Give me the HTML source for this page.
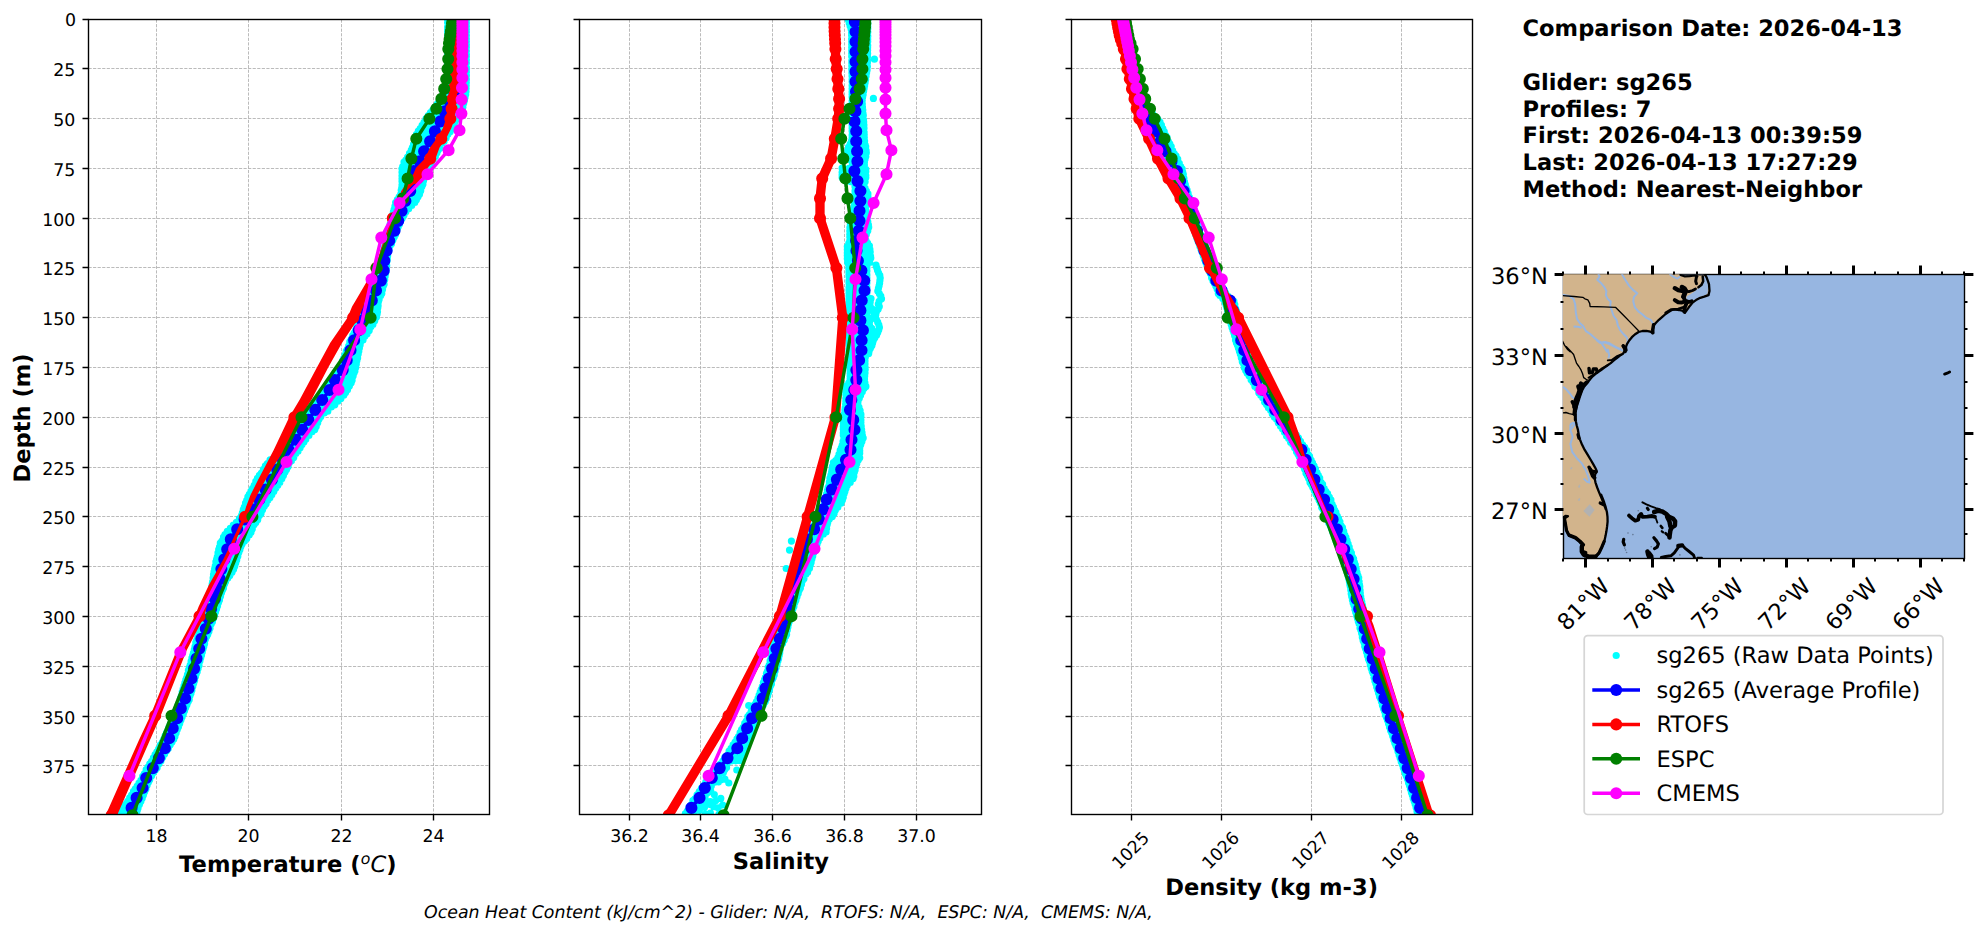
<!DOCTYPE html>
<html lang="en"><head><meta charset="utf-8"><title>Glider vs model profile comparison</title>
<style>html,body{margin:0;padding:0;background:#fff}svg{display:block}text{font-family:'DejaVu Sans','Liberation Sans',sans-serif;fill:#000;text-rendering:geometricPrecision}</style>
</head><body>
<svg width="1976" height="934" viewBox="0 0 1976 934">
<rect width="1976" height="934" fill="#fff"/>
<defs>
<clipPath id="c0"><rect x="88.5" y="19.5" width="401" height="795"/></clipPath>
<clipPath id="c1"><rect x="579.5" y="19.5" width="402" height="795"/></clipPath>
<clipPath id="c2"><rect x="1071.5" y="19.5" width="401" height="795"/></clipPath>
<clipPath id="cm"><rect x="1562.9" y="274.3" width="401.6" height="284.1"/></clipPath>
</defs>
<path d="M156.5 19.5V814.5M248.5 19.5V814.5M341.5 19.5V814.5M433.5 19.5V814.5M88.5 19.5H489.5M88.5 68.5H489.5M88.5 118.5H489.5M88.5 168.5H489.5M88.5 218.5H489.5M88.5 267.5H489.5M88.5 317.5H489.5M88.5 367.5H489.5M88.5 417.5H489.5M88.5 467.5H489.5M88.5 516.5H489.5M88.5 566.5H489.5M88.5 616.5H489.5M88.5 666.5H489.5M88.5 716.5H489.5M88.5 765.5H489.5" stroke="#b0b0b0" stroke-width="0.86" stroke-dasharray="3.18 1.38" fill="none"/>
<g clip-path="url(#c0)">
<path d="M447.6 19.7h.01M450.7 20.2h.01M454.3 20.1h.01M458.6 19.3h.01M462.7 19.3h.01M466.4 19.9h.01M447.6 22.4h.01M450.5 23h.01M455.8 22.5h.01M458.3 23.3h.01M463.5 23.2h.01M466.4 22.9h.01M447.6 27h.01M450.5 26.8h.01M454.7 25.6h.01M458.1 25.9h.01M463.3 25.7h.01M466.4 26.3h.01M447.6 29.5h.01M451.1 29.4h.01M454.2 28.6h.01M458.3 29.6h.01M462.5 29h.01M466.4 29.4h.01M447.6 32.3h.01M451 32.9h.01M455.5 32h.01M459 32.4h.01M463.4 32.8h.01M466.4 32.1h.01M447.6 36.3h.01M450.6 35.4h.01M455.6 34.9h.01M458.9 34.8h.01M463 35.9h.01M466.4 35.6h.01M447.6 39.2h.01M451 38.9h.01M455.3 38.7h.01M458.8 39.1h.01M463.5 38.6h.01M466.4 38.9h.01M447.6 41h.01M451.8 41.9h.01M456.1 42.2h.01M458.4 41.5h.01M463 40.9h.01M466.4 41.6h.01M447.6 44.3h.01M450.6 44.1h.01M455.7 44.2h.01M458.4 44.6h.01M463.4 44.1h.01M466.4 44.7h.01M447.6 48h.01M452.1 48.4h.01M455.8 47.5h.01M458.7 47.7h.01M463.4 48.6h.01M466.4 47.3h.01M447.6 50.5h.01M450.8 50.6h.01M455.1 51.1h.01M458.4 50.2h.01M462.5 50.8h.01M466.4 51.1h.01M447.6 54.8h.01M451.7 54.1h.01M455.4 54.4h.01M458 54.7h.01M463.2 54.7h.01M466.4 54.6h.01M447.6 57h.01M451.2 56.6h.01M455.4 56.5h.01M458 56.7h.01M462 56.9h.01M466.4 56.5h.01M447.6 59.5h.01M450.7 59.7h.01M454.8 59.5h.01M459.6 60.5h.01M461.9 59.9h.01M466.4 60.1h.01M447.6 63.2h.01M450.6 64h.01M456.1 63.3h.01M458.8 62.7h.01M461.8 63.1h.01M466.4 63h.01M447.6 67h.01M450.7 65.7h.01M456 66.5h.01M458.2 66.6h.01M461.7 66.5h.01M466.4 67.3h.01M447.6 70.2h.01M451.8 69.2h.01M454.9 69.1h.01M459.4 69.7h.01M463.2 69.3h.01M466.4 69.2h.01M447.6 73.2h.01M452.3 73.3h.01M455.7 73.2h.01M459.4 72.3h.01M462.7 72.5h.01M466.4 71.9h.01M447.6 75h.01M450.9 75.4h.01M455.5 76.5h.01M458.8 76.5h.01M463.6 76.5h.01M466.4 75.6h.01M447.6 78.5h.01M450.8 78.4h.01M454.5 79.1h.01M459.7 79.4h.01M462.6 79.1h.01M466.4 79.4h.01M447 81.3h.01M451.2 82.7h.01M455.3 82.4h.01M458.6 81.5h.01M463 81.7h.01M466.3 82.5h.01M446.1 85.9h.01M449.9 84.9h.01M455 85.5h.01M457.5 84.5h.01M461.5 85.7h.01M466.2 85.6h.01M445.2 87.6h.01M450 89h.01M453.9 88h.01M457.8 87.6h.01M460.9 89h.01M466.1 88.4h.01M444.3 91.3h.01M449.5 91.2h.01M453.7 91.8h.01M456.7 90.9h.01M461.2 90.9h.01M466 91.4h.01M443.1 94h.01M446.7 93.8h.01M451.4 94.2h.01M454.3 94.5h.01M459 94.3h.01M462.8 94.4h.01M465.7 94.5h.01M441.2 97.5h.01M444.2 97.4h.01M448.5 96.7h.01M453.7 97h.01M457 97.9h.01M461.2 97.2h.01M465 97.5h.01M439.3 100.7h.01M444 100h.01M447.8 100.2h.01M451.4 101h.01M456 100.7h.01M460.7 101.3h.01M464.4 100.5h.01M437.4 103.9h.01M441.8 103.7h.01M446.5 103.6h.01M450.6 103.7h.01M455.8 104h.01M460.1 104.4h.01M463.7 103.3h.01M435.2 106.9h.01M440.1 107.3h.01M442.4 106.2h.01M447 106.1h.01M450.5 106.1h.01M455.4 107.3h.01M459.8 106.2h.01M462.9 107.1h.01M432.8 110.2h.01M436.3 110.5h.01M442.1 109.5h.01M446.3 109.7h.01M449.6 110.7h.01M454.4 109.4h.01M457.8 109.9h.01M462.1 109.6h.01M430.5 112.5h.01M434.5 113.4h.01M438.3 113.1h.01M443.5 112.2h.01M447.7 113.2h.01M452.5 112.3h.01M457.8 113.5h.01M461.3 113.8h.01M428.3 115.5h.01M432.2 115.4h.01M437.7 115.7h.01M440.8 116h.01M446.7 116.6h.01M449.8 115.5h.01M455.5 116.2h.01M459.1 116.4h.01M426.1 118.5h.01M429.6 119.5h.01M434.8 118.5h.01M440.2 119.4h.01M444.3 118.5h.01M448.8 118.5h.01M453.3 119.1h.01M456.9 118.9h.01M424 122.4h.01M429.3 121.9h.01M432.1 122.3h.01M436.8 121.7h.01M441 121.6h.01M445.5 122h.01M450.1 122.7h.01M455 122h.01M422.1 125.4h.01M426 125.2h.01M430.1 125h.01M434.6 125.8h.01M440.1 124.9h.01M444.4 126.1h.01M448.2 125.9h.01M453.4 125.3h.01M420.2 128.5h.01M424.8 128.3h.01M428.1 128.8h.01M433.1 128.2h.01M436.7 128.8h.01M440.3 128.3h.01M443.7 127.8h.01M447.2 127.8h.01M451.9 128.9h.01M418.3 131.2h.01M421.6 130.9h.01M426.9 132.2h.01M430.6 131.3h.01M433.7 131.3h.01M438.1 131.1h.01M442 131.2h.01M447 132.4h.01M450.1 131.7h.01M416.5 134.3h.01M421.4 134.4h.01M424.1 133.9h.01M428.1 134.7h.01M432.3 134.2h.01M436.3 133.9h.01M439.8 134h.01M444 134h.01M448.1 133.9h.01M415.5 137.5h.01M419.3 137.9h.01M424.3 138.2h.01M428.9 138.1h.01M433.7 137.6h.01M437 138.6h.01M441 138.2h.01M446.1 138h.01M414.5 140.2h.01M419.4 141.5h.01M423.2 141.3h.01M427.8 140.3h.01M431.5 140.9h.01M436.3 141.4h.01M440.5 141h.01M444.1 141.5h.01M413.5 144.3h.01M417.9 143.6h.01M420.7 143.4h.01M425.5 143.4h.01M430.5 144.1h.01M434.2 144.2h.01M438.4 144h.01M442.1 143.2h.01M412.4 147.6h.01M416.9 147.1h.01M420.4 147.4h.01M423.4 147.5h.01M427.7 146.4h.01M431.7 147.5h.01M435.5 147.5h.01M440.1 147.9h.01M411.3 150.2h.01M415.6 150.2h.01M420.6 150.6h.01M425 150.4h.01M428.4 149.6h.01M433.2 150.6h.01M438.2 149.9h.01M409.5 153.4h.01M412.4 152.6h.01M416.9 153.6h.01M421.7 153.6h.01M424.8 153.3h.01M429.1 153.2h.01M432.3 153.9h.01M437 152.8h.01M407.6 157.2h.01M412.5 155.6h.01M415.5 156.9h.01M420.5 156.3h.01M423 155.9h.01M428.3 155.9h.01M431.6 155.8h.01M435.4 156.4h.01M405.8 160.2h.01M409 160h.01M413.7 160.1h.01M418 159.1h.01M422.4 159.5h.01M424.6 158.7h.01M429.4 159.4h.01M433.4 159.2h.01M404 162h.01M407.6 162.3h.01M412.5 161.8h.01M416.2 163.1h.01M418.9 163.3h.01M424 163.2h.01M427.1 162.4h.01M431.4 162.4h.01M402.7 166.5h.01M407.3 165.5h.01M411.5 165.3h.01M415.2 165.1h.01M421.2 165.4h.01M425.9 165.3h.01M429.5 165.3h.01M402 168.8h.01M405.7 168.6h.01M411.5 169.4h.01M415.5 169h.01M420 169.5h.01M423.6 169.2h.01M427.8 168.1h.01M402 172.3h.01M406 172.3h.01M410.5 171.6h.01M413.3 172.6h.01M417.6 171.9h.01M422.1 171.6h.01M426.5 172.3h.01M402 175.8h.01M405.4 175.2h.01M409.3 175.1h.01M413.4 174.5h.01M416.8 174.5h.01M422.2 175h.01M425.2 174.6h.01M402 178.8h.01M407.4 178h.01M410.1 177.6h.01M414.5 177.8h.01M418.9 177.7h.01M424.2 177.7h.01M402 181.3h.01M407.1 181.6h.01M410.4 181.1h.01M415 181h.01M418.9 180.5h.01M423.5 180.8h.01M402 185h.01M405.4 184.3h.01M410.6 184.9h.01M414 183.9h.01M418.2 184.1h.01M422.9 184.2h.01M401.7 188.1h.01M406.5 188h.01M408.8 186.7h.01M414.3 188h.01M417.8 187.5h.01M421.9 186.6h.01M401.2 190.3h.01M406 191h.01M409.7 191.3h.01M412.4 189.9h.01M416.1 190.5h.01M420.7 190.8h.01M400.7 194.3h.01M404.9 193.8h.01M408.7 193.5h.01M412.1 192.9h.01M416.3 193.2h.01M419.5 194.3h.01M399.2 196.9h.01M402.6 196.1h.01M406.2 196.9h.01M410.9 196.1h.01M413.4 196.7h.01M418 196.8h.01M397.4 199.6h.01M400.6 200h.01M404 199.5h.01M408.7 200.5h.01M412.9 200.4h.01M416.4 199.8h.01M395.6 202.5h.01M398.9 203.6h.01M403.7 202.6h.01M406.2 202.9h.01M411.3 202.8h.01M414.8 202.5h.01M394.9 206.3h.01M399.9 205.6h.01M402.4 205.7h.01M407.4 206.3h.01M411.7 205.5h.01M394.1 209.6h.01M398.2 209.1h.01M400.8 209.9h.01M404.7 209.6h.01M408.7 208.7h.01M393.4 211.8h.01M398.1 211.9h.01M402.7 212.2h.01M405.9 211.7h.01M392.7 214.9h.01M396.3 215.6h.01M401.2 214.7h.01M404 215.1h.01M392 217.9h.01M396.3 217.8h.01M397.9 217.7h.01M402.2 218.2h.01M391.1 222.1h.01M395.1 221.9h.01M398.4 222.2h.01M400.6 221.2h.01M390.2 224.1h.01M394.1 225h.01M395.3 224.9h.01M399.3 224.4h.01M389.2 227.5h.01M393.3 227.2h.01M398.1 226.9h.01M388.2 230.4h.01M392.2 231.5h.01M396.8 230.2h.01M387.4 234.6h.01M390.9 233.7h.01M395.5 234.4h.01M386.7 237.5h.01M390.3 236.3h.01M394.2 237h.01M386 239.9h.01M390.3 239.6h.01M392.9 239.9h.01M385.4 243.8h.01M387.5 243.1h.01M391.5 243.7h.01M384.7 246.7h.01M386.5 245.6h.01M390.2 245.6h.01M384 250.1h.01M386 249.8h.01M388.9 250h.01M383.4 252.2h.01M387.9 252.1h.01M383 256.3h.01M385.5 255.2h.01M387.6 255.9h.01M382.5 258.4h.01M384.5 257.9h.01M387.3 259.1h.01M382.1 262.5h.01M384.8 262.5h.01M387 261h.01M381.6 264.5h.01M384.1 265.6h.01M386.7 265.6h.01M381.2 267.8h.01M383.3 267.9h.01M386.3 268h.01M380.4 271.8h.01M382.5 271.6h.01M386 271.5h.01M379.6 274.7h.01M383.1 274.4h.01M385.5 273.9h.01M378.7 277h.01M381.7 277.8h.01M385.1 276.6h.01M377.9 279.9h.01M381.8 280h.01M384.7 279.7h.01M376.6 282.8h.01M380.5 283.2h.01M384.1 284.3h.01M375.2 287.2h.01M380.2 286.2h.01M383.3 285.9h.01M373.7 289.1h.01M378.1 290h.01M382.5 289.6h.01M372.3 292.4h.01M375.3 293h.01M378.9 293.2h.01M381.8 293.4h.01M370.7 296.2h.01M373.2 296.4h.01M376.9 296h.01M380.6 295.7h.01M369.1 299.4h.01M371.8 298.6h.01M375.3 298.4h.01M379.1 299.6h.01M367.6 302.2h.01M370.9 301.9h.01M375.8 302.1h.01M378.4 301.7h.01M366.2 305.7h.01M370.4 306h.01M373.3 305.2h.01M378.1 305.7h.01M364.7 308.8h.01M369.9 307.6h.01M373 307.7h.01M377.8 307.8h.01M363.2 312.2h.01M367 312.1h.01M370.1 312h.01M373.8 311h.01M377.5 311.8h.01M361.8 315.2h.01M364.8 314.7h.01M369.7 314h.01M373 313.9h.01M377.1 314h.01M360.4 317.2h.01M364.6 317.8h.01M367.9 316.8h.01M372.2 317.9h.01M376.5 317.1h.01M359.2 320.4h.01M362.5 321.2h.01M367 320h.01M370 320.5h.01M374.7 320.8h.01M358 324h.01M360.9 323.3h.01M365.8 323.7h.01M368.7 323.5h.01M372.9 324.5h.01M356.8 326.6h.01M360.5 326.7h.01M363.7 327.5h.01M368.5 326.7h.01M371 326.4h.01M355.6 330.4h.01M358.4 329.2h.01M363.2 329.9h.01M366.4 329.8h.01M369.2 330.6h.01M354.1 333h.01M357.8 332.3h.01M362.9 333.3h.01M367.1 333.8h.01M352.7 335.5h.01M357.1 336h.01M360.9 335.6h.01M365 335.9h.01M351.2 339.3h.01M356 338.7h.01M359 339.8h.01M363 340h.01M349.8 341.9h.01M352.7 343.1h.01M358.1 342.4h.01M360.9 341.7h.01M348.6 346.2h.01M352.2 346.1h.01M356.5 346h.01M360.1 345h.01M347.4 349.1h.01M350.8 348.4h.01M356.1 349.1h.01M359.4 348.1h.01M346.2 351.2h.01M350.2 351.7h.01M354.4 351.1h.01M358.8 351.3h.01M344.9 355.2h.01M350.2 354.1h.01M353.9 355.2h.01M358.2 354.1h.01M343.7 358.4h.01M346.4 358.1h.01M350.7 358.1h.01M353.7 357.8h.01M357.6 358h.01M342.5 360.9h.01M346.4 360.9h.01M349.6 360.2h.01M353.6 361h.01M356.9 360.6h.01M341.3 364.5h.01M345.6 364h.01M348.2 364.1h.01M351.8 363.5h.01M356.3 364h.01M340.1 366.5h.01M343.9 367.2h.01M347 367.4h.01M350.9 367.6h.01M355.7 367.6h.01M338.3 370.3h.01M341.6 370.3h.01M346.4 371h.01M350 370.9h.01M354.9 371.1h.01M336.2 373.8h.01M341.3 372.9h.01M346 373.4h.01M350.4 374.1h.01M354 372.9h.01M334 377h.01M338.7 375.8h.01M341.3 376.9h.01M344.7 377.1h.01M348.8 377h.01M353.1 375.9h.01M331.8 379.6h.01M336.7 379.1h.01M339.5 379.6h.01M343.7 378.9h.01M347.4 379.1h.01M352.1 380.3h.01M329.7 383h.01M334.8 382.2h.01M338.9 382.1h.01M342.7 382.9h.01M346.6 383.3h.01M351.2 382.8h.01M327.7 385.9h.01M332.8 385.2h.01M337.4 386h.01M340.5 386.3h.01M344.6 386.6h.01M349.4 385.9h.01M325.8 388.7h.01M330.7 388.8h.01M333.8 389.3h.01M337.9 389.4h.01M342.7 389.1h.01M347.5 389.7h.01M323.9 392.1h.01M328.6 391.7h.01M331.6 391.3h.01M336.2 392.2h.01M341.2 392h.01M345.6 392.6h.01M322 394.5h.01M325.8 395.3h.01M329.7 394.3h.01M334.8 394.5h.01M339.1 394.7h.01M343.8 395.2h.01M319.6 398.3h.01M323.2 398.4h.01M328.1 397.6h.01M333.3 397.8h.01M336 397.6h.01M340.9 398.4h.01M317 401.9h.01M321.8 401.1h.01M324.9 400.5h.01M329.8 401.4h.01M333.4 401.5h.01M337.9 401.2h.01M314.5 405.1h.01M319 404h.01M323.4 403.7h.01M326.7 404.2h.01M330.2 403.7h.01M334.8 404.8h.01M312.3 406.7h.01M316.2 408.2h.01M319.2 407h.01M323.9 407.5h.01M327.8 408h.01M331.3 407h.01M310.2 410.3h.01M314.2 409.9h.01M319.7 411.1h.01M323.8 409.8h.01M327.8 411.2h.01M308 414.1h.01M312 414.1h.01M316 413.3h.01M319.4 413.3h.01M324.3 413h.01M305.8 416.5h.01M310 417.1h.01M314 417.1h.01M316.5 416.9h.01M320.7 416.7h.01M303.9 420.4h.01M307.7 419.5h.01M311.8 420.6h.01M314.7 420.5h.01M319.1 419.1h.01M301.9 422.6h.01M305.3 423.4h.01M310.7 423.4h.01M313.4 423.6h.01M317.7 422.7h.01M300 425.7h.01M304.9 426.3h.01M308.5 426.4h.01M313.1 426.1h.01M316.2 426.6h.01M298.1 429.5h.01M303 429.1h.01M306.9 429.3h.01M310.2 428.7h.01M314.8 429.4h.01M296 431.6h.01M300.8 431.7h.01M303.1 431.7h.01M308.9 432.1h.01M312.1 431.7h.01M293.8 434.6h.01M296.7 435.7h.01M301.6 435.7h.01M305.6 434.7h.01M308.9 435.5h.01M291.6 438.3h.01M295.8 439h.01M299.5 437.8h.01M303 439.2h.01M305.8 439.2h.01M289.4 441h.01M292.4 441h.01M295.7 442.2h.01M300.9 441.8h.01M303.9 442.1h.01M287.2 444.9h.01M290.4 444.1h.01M293.8 445.1h.01M297.7 444.4h.01M302 444.6h.01M285 447h.01M288.2 447.5h.01M292.9 447.6h.01M295.9 448.5h.01M300.1 447.8h.01M282.1 451.5h.01M286.3 450.1h.01M289.9 450.8h.01M294.6 450.7h.01M298 451.2h.01M278.1 454.1h.01M282 454.6h.01M286.2 454.5h.01M290.7 453.2h.01M295.8 453.5h.01M274.1 457.5h.01M279 456.3h.01M281.9 457.1h.01M286.4 456.6h.01M289.7 456.9h.01M293.7 457.6h.01M270.1 459.8h.01M275.3 459.9h.01M278.1 460.5h.01M282.9 459.6h.01M287.5 459.5h.01M291.5 460.7h.01M267.4 463.6h.01M272.4 463.5h.01M276 463.1h.01M280.5 463.9h.01M284.4 463.9h.01M289.6 462.5h.01M265.4 465.9h.01M268.7 467h.01M273 466.2h.01M277.5 466h.01M280.4 466.5h.01M284.8 466.8h.01M288.1 466.6h.01M263.4 469.3h.01M266.9 468.9h.01M271.8 469.8h.01M275.4 469h.01M278.7 469.9h.01M282.8 468.9h.01M286.5 469.4h.01M261.4 473.2h.01M264.8 472.1h.01M268.9 472.9h.01M273.9 472h.01M276.4 472.2h.01M280.7 472.6h.01M285 472.1h.01M259.4 475.4h.01M262.8 476.5h.01M267.9 475.1h.01M272.3 475.1h.01M275.2 476.5h.01M280 476.1h.01M283.4 475.6h.01M257.4 478.3h.01M261.8 478.2h.01M265 478.6h.01M268.7 478.6h.01M274.3 479.1h.01M277.7 479h.01M281.8 478.7h.01M255.8 481.3h.01M260 481.7h.01M264.3 482.6h.01M267.7 482h.01M272.3 481.8h.01M275.3 482.3h.01M279.8 482.5h.01M254.2 485.4h.01M258.5 485.6h.01M262.4 485.2h.01M265.9 484.7h.01M270.2 484.4h.01M273.7 485.5h.01M277.8 485.3h.01M252.6 488.3h.01M255.9 488h.01M260.2 488.3h.01M264 488.4h.01M268.9 487.6h.01M272.2 488.5h.01M275.8 487.9h.01M251 491.2h.01M255.7 490.5h.01M258.7 490.7h.01M262.9 491.9h.01M266.2 490.6h.01M270.1 491.3h.01M273.8 491.5h.01M249.3 494.3h.01M254.1 494.8h.01M258.4 494.2h.01M263.7 493.8h.01M267.7 494.1h.01M271.8 494.7h.01M247.9 496.8h.01M253.3 497.2h.01M255.8 497h.01M260.9 496.6h.01M265.3 497.3h.01M269.9 497.7h.01M246.7 500.3h.01M250.5 500.1h.01M255.7 501.2h.01M259.6 500.1h.01M264.4 500.3h.01M268 500h.01M245.5 503h.01M250.2 504.1h.01M254 503.6h.01M258 503.2h.01M262.9 503.4h.01M266.1 503.8h.01M244.3 507.2h.01M248.9 506.6h.01M251.9 506.8h.01M255.5 507.2h.01M260 507.3h.01M264.3 506.3h.01M243.3 509.6h.01M246.6 509.7h.01M250.3 509h.01M255.3 509.4h.01M258.2 509.5h.01M262.5 509.8h.01M242.4 512.8h.01M246.4 513.2h.01M249.6 513.6h.01M254.3 512.2h.01M257.9 513.5h.01M261 513.4h.01M241.6 515.4h.01M246.7 516.2h.01M249.6 515.2h.01M255.9 516.2h.01M259.4 515.6h.01M239.4 518.5h.01M242.3 518.7h.01M247.2 518.9h.01M249.7 519.7h.01M254.6 518.6h.01M257.7 519.7h.01M236.4 522.4h.01M240.8 522.5h.01M244.9 522.7h.01M248.7 521.7h.01M252.3 522.2h.01M255.8 522.6h.01M233.3 525.2h.01M238.2 525.4h.01M241.1 524.9h.01M245 525.3h.01M249 525.2h.01M254 524.7h.01M230.3 528.4h.01M234.7 528.5h.01M239.9 527.6h.01M244.2 528.3h.01M248.1 528.7h.01M252.3 528.9h.01M227.3 531.3h.01M231.1 532.2h.01M234.4 531.7h.01M239.4 530.7h.01M243.3 531.8h.01M247.9 531.2h.01M251 532.3h.01M225 534.6h.01M229 535.2h.01M232.1 534.9h.01M237.3 534.3h.01M241.8 534.4h.01M245.1 534.6h.01M249.2 535h.01M223.5 537.2h.01M227.2 537.6h.01M231.4 538.2h.01M234.7 538.2h.01M238.8 537.7h.01M242.5 537.7h.01M246.8 538.5h.01M221.9 541h.01M226.2 540.5h.01M229 540.5h.01M233.3 541h.01M237.5 540.1h.01M241.1 541.4h.01M244.5 540.9h.01M220.3 543.2h.01M224.3 543.1h.01M228.4 544.6h.01M233.6 544.2h.01M238.3 544.6h.01M242.1 544.1h.01M219.5 547.2h.01M224 547.3h.01M228.2 547.3h.01M231.7 547.3h.01M236.5 547.4h.01M240.9 546.4h.01M218.7 549.6h.01M222 550.5h.01M228 550.3h.01M231.1 550.6h.01M236.2 550.2h.01M239.9 549.7h.01M218 552.9h.01M222 552.9h.01M226.2 553.4h.01M231.4 552.5h.01M234.8 552.5h.01M238.8 552.6h.01M217.3 556.8h.01M221.5 557h.01M225.4 555.5h.01M229.4 556.4h.01M234.5 557.1h.01M237.8 556.3h.01M216.6 559.3h.01M219.8 559.6h.01M224.1 558.8h.01M227.7 558.6h.01M233.1 558.8h.01M236.7 560.1h.01M215.9 561.8h.01M220.6 561.9h.01M222.9 562.9h.01M227.3 562.9h.01M231.1 561.8h.01M235.7 562.9h.01M215.3 565.9h.01M219.8 566h.01M222.2 565.8h.01M227.3 565.5h.01M231.6 565.2h.01M234.7 566.3h.01M214.6 569h.01M217.4 567.9h.01M222.5 569.2h.01M225.2 568.4h.01M230.3 568.2h.01M233.6 569.3h.01M214 571.8h.01M217.6 571.6h.01M223.1 571.7h.01M227.8 571.2h.01M232 572.3h.01M213.5 574.7h.01M217.9 575.1h.01M221.5 574.7h.01M226.3 575.6h.01M229.8 575.4h.01M213.1 578.1h.01M216.3 577.3h.01M221.3 578.3h.01M224.7 577.7h.01M227.7 578.2h.01M212.6 581.9h.01M217.6 581.3h.01M220.8 581h.01M225.5 581.7h.01M212.2 584h.01M216.7 584.4h.01M221.2 584.7h.01M224.5 583.9h.01M211.8 586.5h.01M215.2 587.2h.01M219.8 587.8h.01M223.5 587.9h.01M211.4 589.7h.01M215.7 590.9h.01M219.5 590.5h.01M222.5 590h.01M211 594.1h.01M215.1 593.8h.01M218.8 593.3h.01M221.5 592.8h.01M210.5 596.7h.01M214.5 596.1h.01M217.7 597.3h.01M220.5 596.2h.01M210.1 599.9h.01M213.6 599.6h.01M215.8 599.3h.01M219.5 600.1h.01M209.2 603.3h.01M212.2 602.1h.01M216 603.2h.01M218.5 602.4h.01M208.2 606h.01M212.1 606.5h.01M214.4 605.9h.01M217.5 606h.01M207.2 608.5h.01M209.7 608.5h.01M213.8 608.8h.01M216.5 609.1h.01M206.2 611.9h.01M209.3 611.5h.01M211.5 612.9h.01M215.5 611.9h.01M205.2 614.6h.01M208.5 615.7h.01M210.7 615.4h.01M214.5 615h.01M204.2 618.3h.01M206.3 617.6h.01M211.3 618.9h.01M213.5 618.3h.01M203.1 621.5h.01M205.7 621.8h.01M209.1 622.1h.01M212.4 621.8h.01M202 625h.01M206 624.1h.01M207.2 624h.01M211.2 624h.01M200.9 626.9h.01M203.1 627.7h.01M207.8 627.5h.01M210 628.3h.01M199.9 631.4h.01M202 630.9h.01M205.7 630.1h.01M208.9 631.4h.01M198.8 633.4h.01M203.4 634h.01M207.7 634.5h.01M197.7 637.2h.01M201.9 636.8h.01M206.6 636.4h.01M196.6 640.7h.01M202 639.6h.01M205.4 639.3h.01M195.8 642.7h.01M199.9 643.7h.01M204.6 643.7h.01M195 646.7h.01M198.5 646.7h.01M203.8 646.5h.01M194.3 649.5h.01M199.6 648.6h.01M203.1 648.7h.01M193.5 652.8h.01M198.8 652.7h.01M202.3 652.1h.01M192.7 655.6h.01M197.6 654.9h.01M201.5 655.2h.01M191.9 658.2h.01M195.6 658.6h.01M200.7 658.1h.01M191.1 661.3h.01M194.8 662h.01M199.9 660.9h.01M190.2 665.1h.01M194 664.1h.01M199 665.5h.01M189.3 667.5h.01M194.6 668.5h.01M198.1 668.5h.01M188.4 670.4h.01M192.7 670.4h.01M197.2 671.7h.01M187.5 674.6h.01M192.2 674h.01M196.3 673.8h.01M186.7 677.7h.01M191 677.4h.01M195.5 676.6h.01M185.8 679.9h.01M189.3 680.6h.01M194.6 680.4h.01M184.9 682.8h.01M190 683h.01M193.7 683.3h.01M184 685.9h.01M187.9 687h.01M192.8 686.2h.01M183.1 689.1h.01M187.5 689.3h.01M191.9 690.2h.01M182.2 692.1h.01M187.6 692h.01M191 693.3h.01M181.3 696.1h.01M185.1 695.8h.01M190.1 695.5h.01M180.4 698.5h.01M184.2 698.7h.01M189.2 699.7h.01M179.3 702.8h.01M184.6 701.4h.01M188.1 701.7h.01M178 705.7h.01M181.6 705.5h.01M186.9 704.8h.01M176.7 709h.01M178.8 708.7h.01M182.4 707.6h.01M185.7 707.4h.01M175.4 711.8h.01M178.5 710.8h.01M181.4 712h.01M184.5 710.8h.01M174.2 714.5h.01M176.5 713.9h.01M180.8 714.7h.01M183.3 713.9h.01M172.9 716.8h.01M175.1 717.7h.01M179 717.1h.01M182.1 717h.01M171.6 720.8h.01M175.1 721.1h.01M178 720.1h.01M180.9 719.9h.01M170.3 724.1h.01M173.3 724.1h.01M175.7 724.2h.01M179.7 723.4h.01M169 727.3h.01M172.9 726.8h.01M174.4 727.5h.01M178.5 726.8h.01M167.8 730.5h.01M170.5 729.4h.01M174.8 729.7h.01M177.3 729.4h.01M166.5 732.8h.01M169.9 732.2h.01M172.9 732.9h.01M176.1 733h.01M165.2 735.5h.01M168.9 736.6h.01M172.4 735.8h.01M174.9 736.4h.01M163.9 739h.01M167.7 738.5h.01M171.2 739.9h.01M173.7 739.2h.01M162.3 742.3h.01M165.6 742.4h.01M167.8 743h.01M172 741.9h.01M160.5 744.9h.01M162.9 745h.01M167.6 744.6h.01M170.2 744.8h.01M158.7 748.8h.01M161.3 747.7h.01M165.3 748.6h.01M168.3 748.5h.01M156.9 751.9h.01M159.3 752.2h.01M163.7 750.9h.01M166.4 751h.01M155.1 754.7h.01M158.3 754.3h.01M160.7 754.5h.01M164.6 754.1h.01M153.4 757.9h.01M157.2 757.2h.01M159.7 758.2h.01M162.7 757.3h.01M151.6 761.4h.01M155.6 760.7h.01M157.6 761.4h.01M160.9 760.9h.01M149.8 763.8h.01M153.7 764.4h.01M155.6 763.6h.01M159 763.7h.01M148 767h.01M152 767.6h.01M154.9 767.6h.01M157.1 767.7h.01M146.2 769.5h.01M149.3 770.9h.01M153.1 769.8h.01M155.3 770.1h.01M144.5 773.5h.01M148.7 773.3h.01M153.4 772.6h.01M142.7 776.3h.01M147.1 775.6h.01M151.6 775.8h.01M140.9 780.3h.01M145.8 780.2h.01M149.7 779.7h.01M139 783.1h.01M142.9 783.2h.01M144.3 782.8h.01M148.4 782.2h.01M137.2 786h.01M140 785.8h.01M144.7 785.9h.01M147.1 785.3h.01M135.3 788.8h.01M138.7 789.5h.01M141.9 788.5h.01M145.9 789h.01M133.5 791.3h.01M137.4 792.6h.01M140.9 791.5h.01M144.6 791.8h.01M131.6 795.1h.01M134.8 794.4h.01M138.7 794.7h.01M143.4 794.9h.01M129.7 797.8h.01M133.4 797.4h.01M138.1 798.6h.01M142.2 798.3h.01M127.7 801.3h.01M132.4 800.7h.01M136.9 801.1h.01M140.9 801.3h.01M125.2 804.5h.01M128.7 804h.01M131.8 803.9h.01M135.9 804.1h.01M139.4 804.4h.01M122.8 806.6h.01M126.3 808h.01M129.9 807.5h.01M134.2 807.1h.01M138 808.2h.01M121.4 810.2h.01M126 810h.01M128.5 811.1h.01M133.2 809.8h.01M137.3 810.3h.01M120.2 813.5h.01M124.8 813h.01M127.9 814.3h.01M133 813h.01M136.7 813.3h.01" stroke="#00ffff" stroke-width="7.2" stroke-linecap="round" fill="none"/>
<path d="M457 21.9L457 31.8L457 41.8L457 51.7L457 61.7L457 71.6L456.5 81.6L454 91.5L449.7 101.5L444.7 111.4L440.5 121.4L434.9 131.3L430.1 141.3L424.1 151.2L419.7 161.2L413.8 171.1L412 181.1L410.2 191L405.4 201L401.6 210.9L398.2 220.9L394.5 230.8L389.2 240.8L386.6 250.7L384.3 260.7L383.7 270.6L380.9 280.6L376 290.5L371.8 300.5L365.9 310.4L362.4 320.4L358.8 330.3L354.1 340.3L350.5 350.2L346.7 360.2L342.7 370.1L334.8 380.1L329.5 390L322.2 400L315.3 409.9L308.3 419.9L302.2 429.8L295.7 439.8L288.5 449.7L282.9 459.7L277.2 469.6L271.9 479.6L265.6 489.5L259.3 499.5L252 509.4L244.6 519.4L237.2 529.3L230.8 539.3L227.2 549.2L224.3 559.2L221.4 569.1L219.8 579.1L217.1 589L214.9 598.9L211.1 608.9L208.6 618.8L205.8 628.8L201.4 638.7L199.2 648.7L196.5 658.6L194.1 668.6L191.5 678.5L188.5 688.5L185.1 698.4L180.8 708.4L177.2 718.3L172.7 728.3L169.1 738.2L164.9 748.2L158.9 758.1L152.8 768.1L146.2 778L142.6 788L136.6 797.9L131.6 807.9" stroke="#0000ff" stroke-width="3.45" stroke-linejoin="round" stroke-linecap="butt" fill="none"/>
<path d="M457 21.9h.01M457 31.8h.01M457 41.8h.01M457 51.7h.01M457 61.7h.01M457 71.6h.01M456.5 81.6h.01M454 91.5h.01M449.7 101.5h.01M444.7 111.4h.01M440.5 121.4h.01M434.9 131.3h.01M430.1 141.3h.01M424.1 151.2h.01M419.7 161.2h.01M413.8 171.1h.01M412 181.1h.01M410.2 191h.01M405.4 201h.01M401.6 210.9h.01M398.2 220.9h.01M394.5 230.8h.01M389.2 240.8h.01M386.6 250.7h.01M384.3 260.7h.01M383.7 270.6h.01M380.9 280.6h.01M376 290.5h.01M371.8 300.5h.01M365.9 310.4h.01M362.4 320.4h.01M358.8 330.3h.01M354.1 340.3h.01M350.5 350.2h.01M346.7 360.2h.01M342.7 370.1h.01M334.8 380.1h.01M329.5 390h.01M322.2 400h.01M315.3 409.9h.01M308.3 419.9h.01M302.2 429.8h.01M295.7 439.8h.01M288.5 449.7h.01M282.9 459.7h.01M277.2 469.6h.01M271.9 479.6h.01M265.6 489.5h.01M259.3 499.5h.01M252 509.4h.01M244.6 519.4h.01M237.2 529.3h.01M230.8 539.3h.01M227.2 549.2h.01M224.3 559.2h.01M221.4 569.1h.01M219.8 579.1h.01M217.1 589h.01M214.9 598.9h.01M211.1 608.9h.01M208.6 618.8h.01M205.8 628.8h.01M201.4 638.7h.01M199.2 648.7h.01M196.5 658.6h.01M194.1 668.6h.01M191.5 678.5h.01M188.5 688.5h.01M185.1 698.4h.01M180.8 708.4h.01M177.2 718.3h.01M172.7 728.3h.01M169.1 738.2h.01M164.9 748.2h.01M158.9 758.1h.01M152.8 768.1h.01M146.2 778h.01M142.6 788h.01M136.6 797.9h.01M131.6 807.9h.01" stroke="#0000ff" stroke-width="12.1" stroke-linecap="round" fill="none"/>
<path d="M453 19.5L448.6 98.9L447.4 108.8L446 118.8L442.8 128.2L436.5 138.7L430 147.5L425 158.6L416 167.8L411.5 178.5L405.3 185L401 191.4L401.3 198.4L391.1 218.3L374.7 268L356 300L352.1 306.4L347.5 317.8L330.3 342.8L316.9 367.5L299.8 399.6L289.2 417.3L273.7 450L264.7 467.2L258 480L250.5 495L246 507L243.2 516.8L228.4 549L223 560L208.9 585L198.7 606.4L194.7 616.4L176.8 650L150 716.4L139 740L105.3 816L116.8 816L150 740L160.4 716.4L186.8 650L204.3 616.4L206.8 606.4L215.3 585L227 560L231.9 549L246.8 516.8L251.2 507L257.2 495L265.5 480L273 467.2L284.2 450L300.5 417.3L311.6 399.6L328.2 367.5L342.1 342.8L358.8 317.8L363.4 306.4L365.7 300L378.1 268L394.5 218.3L404.7 198.4L406.4 191.4L412.8 185L423 178.5L427.8 167.8L435.5 158.6L439.6 147.5L446 138.7L451.3 128.2L454.6 118.8L455.8 108.8L456.6 98.9L461 19.5Z" fill="#ff0000"/>
<path d="M457 19.3h.01M457 23.3h.01M457 27.3h.01M457 31.2h.01M456.8 35.2h.01M456.5 39.2h.01M456.3 43.2h.01M456 49.1h.01M455.5 59.1h.01M454.5 69h.01M454 79h.01M453.5 88.9h.01M452.6 98.9h.01M451.6 108.8h.01M450.3 118.8h.01M441.3 138.7h.01M430.2 158.6h.01M417.5 178.5h.01M403 198.4h.01M392.8 218.3h.01M376.4 268h.01M353.1 317.8h.01M294.4 417.3h.01M245.1 516.8h.01M199.5 616.3h.01M155.2 715.8h.01M111.7 815.2h.01" stroke="#ff0000" stroke-width="12.1" stroke-linecap="round" fill="none"/>
<path d="M452.4 19.3L452 23.3L451.5 27.3L450.8 31.2L450.2 35.2L449.6 39.2L449 43.2L448.3 49.1L448.2 59.1L447.5 69L446.2 79L444.2 88.9L441.4 98.9L436.3 108.8L429.4 118.8L416.3 138.7L411.4 158.6L407.6 178.5L403 198.4L394.9 218.3L376.6 268L370.6 317.8L301.5 417.3L252.4 516.8L211.5 616.3L171.5 715.8L132.5 815.2" stroke="#008000" stroke-width="3.45" stroke-linejoin="round" stroke-linecap="butt" fill="none"/>
<path d="M452.4 19.3h.01M452 23.3h.01M451.5 27.3h.01M450.8 31.2h.01M450.2 35.2h.01M449.6 39.2h.01M449 43.2h.01M448.3 49.1h.01M448.2 59.1h.01M447.5 69h.01M446.2 79h.01M444.2 88.9h.01M441.4 98.9h.01M436.3 108.8h.01M429.4 118.8h.01M416.3 138.7h.01M411.4 158.6h.01M407.6 178.5h.01M403 198.4h.01M394.9 218.3h.01M376.6 268h.01M370.6 317.8h.01M301.5 417.3h.01M252.4 516.8h.01M211.5 616.3h.01M171.5 715.8h.01M132.5 815.2h.01" stroke="#008000" stroke-width="12.1" stroke-linecap="round" fill="none"/>
<path d="M462.4 20.3L462.4 22.4L462.4 24.6L462.4 26.9L462.4 29.4L462.4 32.1L462.4 35.1L462.4 38.3L462.4 42L462.4 46.1L462.4 50.8L462.4 56.1L462.4 62.3L462.4 69.5L462.4 77.9L462 87.8L461.6 99.6L461.4 113.6L459.5 130.3L448.6 150.2L427.5 174.2L399.6 203L381.3 237.6L371.5 279.3L360.3 329.4L338.5 389.7L286.5 462L234.2 548.7L180.3 652.3L129.4 775.9" stroke="#ff00ff" stroke-width="3.45" stroke-linejoin="round" stroke-linecap="butt" fill="none"/>
<path d="M462.4 20.3h.01M462.4 22.4h.01M462.4 24.6h.01M462.4 26.9h.01M462.4 29.4h.01M462.4 32.1h.01M462.4 35.1h.01M462.4 38.3h.01M462.4 42h.01M462.4 46.1h.01M462.4 50.8h.01M462.4 56.1h.01M462.4 62.3h.01M462.4 69.5h.01M462.4 77.9h.01M462 87.8h.01M461.6 99.6h.01M461.4 113.6h.01M459.5 130.3h.01M448.6 150.2h.01M427.5 174.2h.01M399.6 203h.01M381.3 237.6h.01M371.5 279.3h.01M360.3 329.4h.01M338.5 389.7h.01M286.5 462h.01M234.2 548.7h.01M180.3 652.3h.01M129.4 775.9h.01" stroke="#ff00ff" stroke-width="12.1" stroke-linecap="round" fill="none"/>
</g>
<path d="M156.5 814.5v6M248.5 814.5v6M341.5 814.5v6M433.5 814.5v6M88.5 19.5h-6M88.5 68.5h-6M88.5 118.5h-6M88.5 168.5h-6M88.5 218.5h-6M88.5 267.5h-6M88.5 317.5h-6M88.5 367.5h-6M88.5 417.5h-6M88.5 467.5h-6M88.5 516.5h-6M88.5 566.5h-6M88.5 616.5h-6M88.5 666.5h-6M88.5 716.5h-6M88.5 765.5h-6" stroke="#000" stroke-width="1.39" fill="none"/>
<rect x="88.5" y="19.5" width="401" height="795" fill="none" stroke="#000" stroke-width="1.39"/>
<text x="156.5" y="841.9" text-anchor="middle" font-size="17.36">18</text>
<text x="248.5" y="841.9" text-anchor="middle" font-size="17.36">20</text>
<text x="341.5" y="841.9" text-anchor="middle" font-size="17.36">22</text>
<text x="433.5" y="841.9" text-anchor="middle" font-size="17.36">24</text>
<text x="76.1" y="25.6" text-anchor="end" font-size="17.36">0</text>
<text x="75.4" y="75.6" text-anchor="end" font-size="17.36">25</text>
<text x="75.4" y="125.6" text-anchor="end" font-size="17.36">50</text>
<text x="75.4" y="175.6" text-anchor="end" font-size="17.36">75</text>
<text x="75.4" y="225.6" text-anchor="end" font-size="17.36">100</text>
<text x="75.4" y="274.6" text-anchor="end" font-size="17.36">125</text>
<text x="75.4" y="324.6" text-anchor="end" font-size="17.36">150</text>
<text x="75.4" y="374.6" text-anchor="end" font-size="17.36">175</text>
<text x="75.4" y="424.6" text-anchor="end" font-size="17.36">200</text>
<text x="75.4" y="474.6" text-anchor="end" font-size="17.36">225</text>
<text x="75.4" y="523.6" text-anchor="end" font-size="17.36">250</text>
<text x="75.4" y="573.6" text-anchor="end" font-size="17.36">275</text>
<text x="75.4" y="623.6" text-anchor="end" font-size="17.36">300</text>
<text x="75.4" y="673.6" text-anchor="end" font-size="17.36">325</text>
<text x="75.4" y="723.6" text-anchor="end" font-size="17.36">350</text>
<text x="75.4" y="772.6" text-anchor="end" font-size="17.36">375</text>
<path d="M629.5 19.5V814.5M700.5 19.5V814.5M772.5 19.5V814.5M844.5 19.5V814.5M916.5 19.5V814.5M579.5 19.5H981.5M579.5 68.5H981.5M579.5 118.5H981.5M579.5 168.5H981.5M579.5 218.5H981.5M579.5 267.5H981.5M579.5 317.5H981.5M579.5 367.5H981.5M579.5 417.5H981.5M579.5 467.5H981.5M579.5 516.5H981.5M579.5 566.5H981.5M579.5 616.5H981.5M579.5 666.5H981.5M579.5 716.5H981.5M579.5 765.5H981.5" stroke="#b0b0b0" stroke-width="0.86" stroke-dasharray="3.18 1.38" fill="none"/>
<g clip-path="url(#c1)">
<path d="M848.2 19.6h.01M853.1 19.4h.01M856.5 19.3h.01M859.5 20.8h.01M863.3 20.2h.01M867.8 19.9h.01M849.2 23h.01M852.9 22.6h.01M857.3 22.4h.01M859.8 22.3h.01M863.6 23h.01M867.8 23.7h.01M850.1 26h.01M853.8 25.8h.01M859.9 25.5h.01M863.6 26h.01M867.8 26.5h.01M851.1 29h.01M855.6 29.3h.01M859.7 29.9h.01M863.8 28.7h.01M867.8 28.6h.01M851.6 33.1h.01M855.6 31.9h.01M860.6 32.5h.01M864.2 33h.01M867.8 32.1h.01M851.6 35.3h.01M856.4 34.9h.01M860.2 34.9h.01M864.1 35.8h.01M867.8 36.2h.01M851.6 39.1h.01M855.7 38.1h.01M859 38.6h.01M863.7 37.9h.01M867.7 39.2h.01M851.7 41.7h.01M856.1 41.3h.01M859.2 40.9h.01M863.4 41.3h.01M867.7 41.6h.01M851.7 44.6h.01M856.3 45.4h.01M859 44.6h.01M863 45.1h.01M867.7 45.6h.01M851.7 47.4h.01M856.2 47.6h.01M858.7 48.3h.01M863.3 47.4h.01M867.6 47.8h.01M851.7 50.6h.01M855.5 50.9h.01M859.5 51.1h.01M863.2 50.4h.01M867.6 50.3h.01M851.7 53.5h.01M855.7 53.9h.01M860.3 54.1h.01M864 54.9h.01M867.6 53.4h.01M851.7 56.4h.01M855 57h.01M859.8 57.6h.01M863.3 57.9h.01M867.5 56.4h.01M851.8 60.8h.01M855.1 60.9h.01M858.7 61h.01M864.1 61.1h.01M867.5 60.4h.01M851.8 62.9h.01M856.6 63.3h.01M858.8 63.6h.01M863.5 63.4h.01M867.4 62.8h.01M851.8 65.9h.01M855.9 66.4h.01M858.9 66.4h.01M864 66.8h.01M867.4 66.5h.01M851.8 69.4h.01M855.4 69.2h.01M858.9 69.5h.01M862.5 70h.01M867.1 69.9h.01M851.9 72.9h.01M854.6 72.5h.01M859.1 72h.01M863.9 73.1h.01M866.6 72.7h.01M852 76.1h.01M854.9 75.4h.01M859.1 76.2h.01M862.9 75h.01M866.1 76h.01M852.1 79.6h.01M855.9 79.6h.01M859.8 78.5h.01M861.8 79h.01M865.6 79.7h.01M852.1 81.8h.01M857.3 82.6h.01M860.8 82.2h.01M865.1 82.7h.01M852.1 85.6h.01M855.9 85.7h.01M859.8 84.9h.01M864.6 85.8h.01M852.1 88.8h.01M855.7 87.9h.01M860.3 88.7h.01M864.1 88.5h.01M852.1 92h.01M856.4 91.8h.01M860 91.1h.01M863.6 91.2h.01M852.1 94.4h.01M855.8 94.9h.01M859 93.7h.01M863.1 94.8h.01M852.1 97.1h.01M855.5 96.9h.01M859.8 97.1h.01M862.6 97.2h.01M852.1 101.1h.01M855.5 100.2h.01M859.6 100.5h.01M862.2 100.4h.01M852.1 104.4h.01M856.1 104.1h.01M858.4 104.2h.01M862.3 103.9h.01M852.1 107.3h.01M855.3 107.2h.01M859.7 106.6h.01M862.5 107h.01M852.1 110.3h.01M856.6 110.6h.01M859.8 109.3h.01M862.8 110.1h.01M852.1 113.3h.01M854.9 112.9h.01M860.1 113.6h.01M863 113.7h.01M852.1 115.4h.01M856 116.7h.01M859.8 115.8h.01M863.3 115.4h.01M852.1 119.9h.01M856.6 119.4h.01M859.4 119.7h.01M863.5 119.7h.01M852.1 122.7h.01M856.2 122h.01M859.5 122.1h.01M863.7 122h.01M852.1 125.4h.01M855.3 125.8h.01M859.7 124.9h.01M863.9 125h.01M852.1 128.3h.01M855.9 129h.01M859.2 128.1h.01M864 128.2h.01M852.1 131.1h.01M856.6 131h.01M859.2 131.7h.01M864.1 132h.01M852.1 135.2h.01M856.3 134.4h.01M860.9 135.1h.01M864.2 134.7h.01M852.1 137.9h.01M857 138.6h.01M861.1 137.2h.01M864.3 137.5h.01M851.6 140.8h.01M855.3 141.3h.01M859.4 141.5h.01M864.6 141h.01M850.1 144.2h.01M853.7 144.7h.01M857.7 144.6h.01M862.2 144.3h.01M865.1 144.8h.01M848.5 147.1h.01M852.5 147.7h.01M857.1 146.8h.01M861.7 147.1h.01M865.7 146.5h.01M847.7 150.7h.01M851.4 151h.01M855.1 150.9h.01M858.3 149.7h.01M862.4 150.6h.01M866.1 150.7h.01M847.6 153.5h.01M850.6 153.1h.01M854.2 153.1h.01M859.7 153.1h.01M863 153.5h.01M866.3 152.7h.01M849 156.7h.01M852.4 155.9h.01M857.6 155.8h.01M862.5 156.3h.01M865.8 156.6h.01M850.9 160.2h.01M853.6 160.3h.01M857 159.7h.01M861.8 160.3h.01M865 159.3h.01M852.4 163.3h.01M856.7 162.6h.01M859.7 162.2h.01M864.4 162.4h.01M852.4 165.5h.01M856.1 166.2h.01M860.1 165.9h.01M864.4 165h.01M842.1 168.2h.01M846.5 169.4h.01M849.6 168.1h.01M853.4 168.6h.01M857.6 168.9h.01M861.5 169h.01M865.8 169.3h.01M842.1 172.4h.01M846.5 172h.01M849.5 172.4h.01M853.5 172.5h.01M857.8 172.1h.01M861.8 172.1h.01M865.8 171.6h.01M842.1 175.1h.01M846.5 174.8h.01M850.2 174.9h.01M853.9 174.8h.01M858 175.3h.01M861.2 174.4h.01M865.8 175.5h.01M842.1 177.4h.01M846.6 178.5h.01M849.4 178.3h.01M853.5 178.7h.01M857.3 177.5h.01M860.9 178.4h.01M865.8 177.6h.01M846 180.9h.01M850.7 181.6h.01M854.1 181.3h.01M857.7 180.4h.01M861.9 180.9h.01M865.1 181.8h.01M855 184.2h.01M860.1 183.5h.01M863.5 185.1h.01M855 186.8h.01M858.4 187.4h.01M862.6 187.7h.01M865 188.2h.01M855 191.1h.01M858.7 189.9h.01M861.9 190.8h.01M866.4 191.2h.01M855 193.9h.01M859 193.8h.01M863.9 193.2h.01M867.9 193.9h.01M854.8 196.2h.01M858.2 196h.01M863.5 197h.01M867.9 196.3h.01M854.5 199.6h.01M859.2 199.4h.01M863.1 200h.01M867.3 199.6h.01M854.2 202.4h.01M858.8 203.2h.01M861.9 203.4h.01M866.7 203.1h.01M854 206.6h.01M858.6 206h.01M862.5 205.7h.01M866.1 206.2h.01M853.7 208.4h.01M857.3 209.1h.01M862.4 209.4h.01M865.6 209.8h.01M853.1 212.8h.01M858.3 212.4h.01M861.8 212.2h.01M865.9 211.8h.01M852.4 215.8h.01M856.1 214.8h.01M858.9 214.9h.01M863.4 215.5h.01M866.5 214.8h.01M851.7 218.7h.01M855.7 218h.01M859.3 219.2h.01M862.6 218h.01M867.1 218.6h.01M851 222h.01M856 221.3h.01M859.9 220.9h.01M863.4 222.1h.01M867.8 221.8h.01M850.3 224.5h.01M854.1 224.6h.01M857.6 225.2h.01M862.1 224.1h.01M865.3 225.3h.01M868.4 224.8h.01M849.9 227.7h.01M853.4 227.7h.01M857.6 227.9h.01M860.4 228.5h.01M864.5 227.8h.01M868.7 227.2h.01M849.8 231h.01M853.4 230.5h.01M858.6 230.5h.01M863.3 230.3h.01M867.8 230.8h.01M849.8 234.4h.01M854.2 234.7h.01M859 233.9h.01M862.1 234.3h.01M866.3 234.5h.01M849.8 237.1h.01M853.9 237.3h.01M857.4 237h.01M860.9 236.9h.01M864.9 237h.01M849.8 240.6h.01M853.2 239.5h.01M858.7 240.1h.01M862.3 240.8h.01M866 240.5h.01M848.8 243.3h.01M853.5 243.4h.01M856.2 242.7h.01M859.4 243.7h.01M864.6 243h.01M867.6 243.2h.01M847.3 246.6h.01M851.9 245.9h.01M857 246.4h.01M861 246.6h.01M864.9 246.6h.01M869.4 245.8h.01M847.3 249.5h.01M851.4 249.6h.01M854.4 248.9h.01M857.8 248.8h.01M861.7 249.4h.01M866.3 249.7h.01M869.9 249.3h.01M847.3 252.9h.01M850.2 252.3h.01M854.2 252.5h.01M858.9 252.6h.01M862.5 252.3h.01M866.1 251.9h.01M870.2 252h.01M847.3 255.6h.01M851.3 255h.01M855.7 254.8h.01M858.1 255.5h.01M862.4 255.6h.01M867 255.8h.01M870.5 256.1h.01M847.3 258.7h.01M851.6 258.6h.01M854.4 258h.01M858.4 258.6h.01M862.5 258.8h.01M867.2 259.4h.01M870.8 258.1h.01M847.7 262.5h.01M851.1 262.4h.01M857.5 261.6h.01M861.5 261.8h.01M865.4 262.4h.01M869.7 262.5h.01M848.5 264.6h.01M851.7 265.6h.01M856.2 265.5h.01M859.2 265.5h.01M862.8 264.3h.01M867.3 264.6h.01M848.8 268.7h.01M852.2 267.9h.01M855.6 267.3h.01M859.5 268h.01M862.9 268.4h.01M866.9 267.7h.01M849 271.9h.01M854.3 271.2h.01M857.1 271.2h.01M862.7 271.3h.01M866.9 271h.01M849 274.6h.01M854.5 274.5h.01M857 274.4h.01M862.7 274.3h.01M866.9 274.9h.01M849 276.6h.01M852.5 277.7h.01M857.2 276.7h.01M863.1 277.1h.01M866.9 277.9h.01M849 280.9h.01M853.8 280.2h.01M857.1 281.2h.01M863.2 281.1h.01M866.9 280.4h.01M849 283.1h.01M853.7 283.4h.01M857.3 282.9h.01M862.2 282.9h.01M866.9 283.1h.01M849 287.4h.01M854.3 287.2h.01M858 287h.01M861.8 286.8h.01M866.9 287.4h.01M849 290.2h.01M854.4 289.9h.01M857.6 288.9h.01M862 290.2h.01M866.9 289.7h.01M849 293h.01M854.1 292.5h.01M857.2 293.4h.01M862.6 292h.01M866.9 293.1h.01M849 296.3h.01M854 295.3h.01M857.5 296.3h.01M862.8 295.7h.01M866.9 296.7h.01M849 298.7h.01M854.3 298.4h.01M857.9 299.8h.01M862.8 299.4h.01M866.9 299.6h.01M849 302.3h.01M853.6 302.6h.01M858 302.8h.01M862.9 301.3h.01M866.9 301.8h.01M849 305.8h.01M852.7 304.4h.01M858.1 305.5h.01M863.4 305.9h.01M866.9 305.4h.01M849 308.6h.01M853.5 308.9h.01M858.3 307.7h.01M862.7 307.6h.01M866.9 308h.01M849 311.1h.01M854.3 311h.01M857.7 311.5h.01M861.8 311.3h.01M866.9 311.1h.01M849 314.9h.01M854.1 314.6h.01M858.7 314.5h.01M862.9 313.9h.01M866.9 314.3h.01M849 317.3h.01M854.2 317.6h.01M857.7 317.9h.01M863.3 318.1h.01M866.9 318.1h.01M849 321h.01M854.1 320.8h.01M857.7 320.4h.01M862 320.4h.01M866.9 320.7h.01M849 324.4h.01M852.9 323.6h.01M857.5 323.8h.01M861.5 324h.01M866.9 324.4h.01M849 327.6h.01M853.2 326.4h.01M858.4 327.3h.01M861.8 326.2h.01M866.9 327.2h.01M849 329.8h.01M853.5 330.1h.01M858.7 329.4h.01M861.9 329.3h.01M866.9 330.3h.01M849 332.4h.01M854.2 333.3h.01M858 332.7h.01M863.2 332.5h.01M866.9 333.2h.01M849 336.7h.01M853.8 335.5h.01M857.2 335.9h.01M862.9 335.6h.01M866.9 336.9h.01M849 339.9h.01M853.6 339.9h.01M858.2 338.8h.01M862.2 338.5h.01M866.9 339.2h.01M849 343.2h.01M853.3 342.7h.01M857.7 342.7h.01M862.1 343.1h.01M866.9 342.3h.01M849 345.1h.01M853.3 344.8h.01M857.6 345.9h.01M862.2 345.4h.01M866.9 345.1h.01M849 349.1h.01M854.2 348.5h.01M857 348.5h.01M863.2 348.8h.01M866.9 348.2h.01M849 351.1h.01M854.2 351h.01M858.2 351.9h.01M861.8 351.6h.01M866.9 352.3h.01M849 355.6h.01M852.6 354h.01M857.3 354.1h.01M863.1 354.1h.01M866.6 354.6h.01M849 358.5h.01M853 357.5h.01M856.2 357.5h.01M860.8 358.5h.01M865.2 357.8h.01M849.2 361.1h.01M852.7 360.9h.01M858 360.4h.01M861.4 360.7h.01M865 360.9h.01M849.5 364.5h.01M853.1 364.1h.01M857.3 364.1h.01M860.3 363.9h.01M865 363.9h.01M849.8 367.1h.01M853.2 367.1h.01M858 366.5h.01M860.5 367.3h.01M865.1 367.3h.01M850.1 370.8h.01M852.9 369.5h.01M857.9 369.8h.01M861.4 370h.01M865.2 369.6h.01M850.1 373.5h.01M853.4 373.4h.01M858.3 373.3h.01M861.9 373.1h.01M865 372.9h.01M850.1 376.3h.01M853.4 376.9h.01M856.7 376.9h.01M860.5 376.4h.01M864.7 376h.01M850.1 379h.01M853 380.4h.01M856.5 380.3h.01M860.8 380.2h.01M864.5 379.1h.01M848.8 382.8h.01M853.2 382.4h.01M857.1 383.3h.01M860.7 381.9h.01M864.9 382.9h.01M845.8 386.2h.01M849.7 386.3h.01M853.6 385.7h.01M857.7 385.2h.01M861.1 386h.01M865.9 386.4h.01M845.8 388.4h.01M850.3 388.6h.01M853 388.2h.01M855.8 389h.01M861.2 389.1h.01M864.1 388.3h.01M845.8 392.3h.01M849.2 392h.01M854.5 391.8h.01M857.8 391.7h.01M862.3 391.7h.01M845.8 394.3h.01M849.9 394.9h.01M852.6 394.8h.01M856 395.1h.01M860.6 395.2h.01M845.8 398.4h.01M850.2 399h.01M854.1 397.7h.01M859.3 398.3h.01M845.8 401.2h.01M849.5 401.7h.01M854 401.4h.01M858 401.6h.01M845.6 404.3h.01M849.7 405.2h.01M853.2 404.3h.01M857.9 404.6h.01M845.2 407.9h.01M847.9 406.9h.01M851.7 407.8h.01M855 406.8h.01M859 407.4h.01M844.9 410h.01M849.1 411.3h.01M853 410.7h.01M856.1 409.8h.01M860.1 410.5h.01M844.5 413.7h.01M848.2 413.6h.01M853.6 413.5h.01M856.3 413.6h.01M860.9 414.4h.01M844.2 416.1h.01M848.3 417.6h.01M852.6 416.5h.01M856.4 417.1h.01M860.9 416.2h.01M843.8 420.6h.01M848.4 420.6h.01M851.7 419.1h.01M856.3 419.8h.01M860.9 419.9h.01M843.4 423.2h.01M846.9 423.7h.01M851.5 422.5h.01M855.8 422.8h.01M860.9 422.5h.01M843.3 426.4h.01M847.5 425.5h.01M852 426.6h.01M856.8 425.4h.01M861.2 426.2h.01M843.3 429.2h.01M847 429.6h.01M849.9 429.5h.01M854.8 429.9h.01M857.7 428.8h.01M861.6 429.5h.01M843.3 433.1h.01M848 432.5h.01M850.4 433h.01M853.8 432.5h.01M859 432.4h.01M862 432.7h.01M843.3 435.3h.01M847.5 434.9h.01M851.3 434.8h.01M854.1 434.8h.01M858.2 434.6h.01M862.4 435.7h.01M843.8 439.2h.01M848.3 437.8h.01M851.5 437.9h.01M855.6 437.7h.01M860.2 438.4h.01M863.2 438h.01M843 441.5h.01M846.4 441.6h.01M850.4 442.3h.01M854 440.9h.01M858.3 441.6h.01M861.9 441.4h.01M842.2 445.4h.01M846.6 444.6h.01M848.9 445.3h.01M853.9 445.4h.01M856.8 444.3h.01M860.7 444.7h.01M841.3 447.8h.01M845.5 447.2h.01M849.6 447.9h.01M851.9 448h.01M855.2 448.3h.01M859.7 447.9h.01M840.2 450.4h.01M843.2 451h.01M848.6 450.5h.01M852.8 451.1h.01M855.8 451.6h.01M859.7 450.7h.01M839 454.3h.01M842.9 453.8h.01M847.4 454.7h.01M850.6 453.8h.01M854.7 453.9h.01M859.7 453.3h.01M837.9 457.6h.01M842.6 457.8h.01M847.1 456.9h.01M851.2 456.6h.01M855.2 456.5h.01M859.7 457.8h.01M835.7 460.5h.01M839 460.3h.01M843 460.8h.01M847.4 460.5h.01M851 459.6h.01M854.7 460.8h.01M858.3 460h.01M833.4 462.5h.01M836.9 462.5h.01M841.3 463.3h.01M844.3 463.9h.01M848.5 463.2h.01M852.2 463.3h.01M856.8 463.4h.01M832.4 466.7h.01M835.3 465.8h.01M839.5 466.1h.01M844.7 467h.01M848.5 466.5h.01M851 466.1h.01M855.8 466.4h.01M832 469.9h.01M835.6 469.4h.01M839.3 469.5h.01M843.4 469.3h.01M848.3 469.7h.01M851.6 470.1h.01M855.1 469.9h.01M831.6 472.2h.01M835.9 472.8h.01M839.3 472.9h.01M843.7 472.3h.01M846.4 472.7h.01M849.8 473.1h.01M854.4 472.1h.01M830.8 475.4h.01M835.2 476.3h.01M837.9 475.1h.01M842.6 475.9h.01M845.9 475.2h.01M850.9 475.1h.01M853.8 476.3h.01M829.9 478.4h.01M833.2 478.7h.01M836.9 479.2h.01M840.9 478.4h.01M845 479.3h.01M848.3 479.2h.01M853.1 478.4h.01M829.4 482.1h.01M834.5 481.4h.01M836.8 481.6h.01M842.3 481.5h.01M845.7 482.7h.01M850.2 482.5h.01M829 485.7h.01M832.1 485.3h.01M835.9 485.3h.01M840.6 485.3h.01M843.6 485.2h.01M847.3 485.3h.01M828.1 487.6h.01M833 487.5h.01M837.8 487.8h.01M840.7 487.3h.01M846 488.3h.01M827.3 490.5h.01M831.5 490.5h.01M836.5 491.8h.01M839.5 491.4h.01M844.9 491.4h.01M826.4 494.4h.01M831.7 494h.01M836 494.4h.01M839.1 493.9h.01M844.1 493.7h.01M825.6 497.8h.01M829.4 497.5h.01M835 497h.01M839.2 497.7h.01M843.3 497.3h.01M825.2 501h.01M829.4 499.9h.01M833 499.9h.01M838.6 500.5h.01M842.4 499.9h.01M824.5 504.3h.01M827.7 503.7h.01M832.7 504.2h.01M837.1 504.1h.01M841 503.2h.01M822.8 506.7h.01M827.1 506.5h.01M830.8 506.6h.01M833.8 506.3h.01M837.9 507h.01M821.3 510.6h.01M823.9 509.3h.01M827.5 509.3h.01M831.9 509.9h.01M835.4 510.1h.01M820.3 512.3h.01M824.4 512.4h.01M827.7 512.7h.01M830.7 513.4h.01M834.1 513.6h.01M819.1 516.1h.01M822.6 515.7h.01M828.3 516.5h.01M832.3 516.6h.01M817.4 519.2h.01M820.6 518.7h.01M825.2 518.5h.01M829.4 518.9h.01M815.7 521.9h.01M820.1 522.1h.01M823.8 521.9h.01M827.7 522.6h.01M813.8 525.4h.01M817.4 526h.01M821.9 524.9h.01M827.2 524.6h.01M812 528.9h.01M816.4 528.3h.01M819.8 528.9h.01M823.7 529.1h.01M826.6 528.6h.01M810.2 531.7h.01M813.2 531.1h.01M819.1 531.5h.01M823 531.1h.01M826.1 532h.01M807.8 535.1h.01M812.2 534.3h.01M816.7 534.3h.01M820.6 535.3h.01M823.5 533.9h.01M805.3 537h.01M808.7 537.3h.01M812.4 537.2h.01M816.8 537.1h.01M819.9 537.9h.01M803.8 540.5h.01M807.1 541h.01M810 541.2h.01M814.5 541.2h.01M818.2 541.3h.01M802.8 544.6h.01M805.4 543.5h.01M809.6 544h.01M813.1 543.8h.01M817.1 543.9h.01M802 547.4h.01M804.7 546.8h.01M808.5 546.9h.01M812.2 546.6h.01M816 547.7h.01M801.2 549.3h.01M803.7 550.5h.01M807.5 550.8h.01M811.7 550.6h.01M814.9 550.8h.01M800.4 553.6h.01M805.8 552.7h.01M808.7 552.4h.01M813.8 552.4h.01M799.6 556.8h.01M804.4 556h.01M807.6 555.7h.01M812.7 556.3h.01M798.6 560.2h.01M802 559.5h.01M807.9 559h.01M811.9 558.9h.01M797.6 563.2h.01M801.5 562.2h.01M805.3 562.4h.01M808.4 562.8h.01M811.1 562.4h.01M796.6 565.4h.01M799.2 565.4h.01M803.9 565.3h.01M806.5 565.3h.01M810.3 564.9h.01M795.5 569.3h.01M799.3 568.9h.01M803.2 568.9h.01M805.8 569.3h.01M809.5 568.3h.01M794.4 572.2h.01M799.7 571.2h.01M802.7 571.6h.01M807.6 572.2h.01M793.2 574.9h.01M797.2 575.5h.01M801.4 574.5h.01M805.8 574.2h.01M792 578.8h.01M797 578.8h.01M800.1 578.1h.01M803.9 578.7h.01M790.9 581.2h.01M794.5 581.4h.01M798.1 581.1h.01M802.5 580.6h.01M789.7 583.8h.01M793.4 584.5h.01M798.2 583.5h.01M801.5 584.2h.01M788.6 587.8h.01M791.7 586.9h.01M796.8 587h.01M800.4 587.9h.01M787.5 589.7h.01M791.8 590.5h.01M795 590.8h.01M799.3 590.1h.01M787.2 592.8h.01M790.9 592.8h.01M794.7 593h.01M798.2 593.5h.01M786.8 597.3h.01M790.6 596.7h.01M794.2 596.5h.01M797 596.7h.01M786.5 600.4h.01M790.6 598.9h.01M793 600.1h.01M795.9 600.3h.01M786.2 602.8h.01M789.8 602.7h.01M794.9 602.4h.01M785.9 605.9h.01M789.2 605.3h.01M793.9 606.6h.01M785.7 609h.01M789.9 609.2h.01M792.9 608.8h.01M785 612.3h.01M789.3 611.5h.01M792 612.4h.01M784 615.9h.01M788.5 615.3h.01M791.1 614.5h.01M783 618.6h.01M786.6 619.1h.01M790.2 617.9h.01M782.1 620.8h.01M784.9 621.5h.01M789.3 621.6h.01M781 624.5h.01M785.5 625.3h.01M788.5 623.9h.01M779.8 627.6h.01M783.7 626.9h.01M787.9 627.1h.01M778.6 630.8h.01M782.8 630.4h.01M787.3 630h.01M777.4 634.1h.01M781.3 633.2h.01M784.3 633.6h.01M786.6 634.5h.01M776.3 637.6h.01M780.4 636.1h.01M783.1 636.2h.01M785.7 636.2h.01M775.1 640.1h.01M777.7 640.7h.01M781.2 639.6h.01M784.2 640h.01M774 643.1h.01M777.3 643.7h.01M782.6 643.3h.01M772.9 646.5h.01M777.6 646.6h.01M781 645.4h.01M772.2 649.6h.01M776.5 649.6h.01M780.2 649.4h.01M771.8 653h.01M774.9 652.2h.01M779.7 652.9h.01M771.3 655.3h.01M776.1 656.2h.01M779.2 655.6h.01M770.8 659h.01M773.9 658.3h.01M778.6 658.7h.01M770.1 660.9h.01M774.3 661.7h.01M777.9 661.1h.01M769.2 665.1h.01M773 664.1h.01M777 664.4h.01M768.2 667.4h.01M772.2 667.9h.01M776 667.8h.01M767.3 671.6h.01M770.3 671.5h.01M775.1 670.9h.01M766.4 673.6h.01M769.8 673.7h.01M774.2 674.9h.01M765.4 677.3h.01M768.9 676.9h.01M773.2 677.8h.01M764.5 679.9h.01M769.1 680h.01M772.3 679.5h.01M763.4 682.6h.01M768.2 684.1h.01M771.4 684h.01M762.3 686.6h.01M765.4 686.6h.01M770.4 686.1h.01M761.2 689.5h.01M766.1 689.1h.01M769.5 689.9h.01M760.2 692.1h.01M763.5 692.1h.01M768.6 692.5h.01M759.1 695.2h.01M763.9 695.7h.01M767.7 695.8h.01M758 698.4h.01M762.5 698.1h.01M766.7 698.3h.01M756.5 701.5h.01M760.4 702.5h.01M765.2 701.7h.01M754.7 704.6h.01M759 704.3h.01M763.3 704.9h.01M753 708.4h.01M757.4 708.8h.01M761.5 708.1h.01M751.2 711.4h.01M754.7 711.4h.01M759.6 711.9h.01M749.4 714.6h.01M752.7 714.3h.01M757.8 714.8h.01M747.8 716.7h.01M753 717.9h.01M756.5 717.7h.01M746.3 721h.01M749.3 720.8h.01M752.3 720.9h.01M755.4 720.1h.01M744.7 723.4h.01M747.5 723.8h.01M751.8 723.7h.01M754.3 723.7h.01M743.2 727.4h.01M745.8 726.4h.01M750.1 727.3h.01M753.2 726.8h.01M741.6 729.5h.01M745.7 729.9h.01M747.6 729.3h.01M752 730.4h.01M740.1 732.7h.01M742.9 732.7h.01M747.9 732.4h.01M750.9 732.8h.01M738.5 736.6h.01M742.1 736h.01M745.3 735.6h.01M749.8 735.7h.01M737 738.8h.01M740.4 738.6h.01M744.3 739.4h.01M748.7 739.9h.01M735.1 742.1h.01M739.3 741.8h.01M743.1 741.9h.01M747.5 742.1h.01M733.1 744.9h.01M738.3 745.9h.01M741.2 744.7h.01M746.2 745.3h.01M731.1 748.3h.01M735.3 748h.01M738.8 749.1h.01M741.6 749.1h.01M745 749h.01M729.1 751h.01M733.5 752.3h.01M736.3 752.1h.01M739.2 752.3h.01M743.8 752.4h.01M727 755.5h.01M731.7 755h.01M735.1 754.6h.01M738.6 754.6h.01M725 757.1h.01M728.8 758.5h.01M732.3 757.6h.01M741.3 758.4h.01M722.9 761.1h.01M727.2 761.5h.01M731 761h.01M735.7 760.8h.01M740.1 760.7h.01M720.4 764h.01M724.9 764.7h.01M727 763.9h.01M717.9 766.6h.01M721.8 766.8h.01M726.6 767.5h.01M715.4 770.4h.01M719.1 771h.01M724.8 769.6h.01M736.8 770h.01M713 773.7h.01M716.7 773.2h.01M720.1 773.1h.01M723.4 772.6h.01M710.5 776h.01M714.2 776.2h.01M718 776.1h.01M708 779.8h.01M711.3 780.1h.01M715.9 779h.01M720.8 779.8h.01M724.9 779.2h.01M705.8 782.1h.01M710.9 782h.01M714.7 782.2h.01M718.6 781.8h.01M728.8 783h.01M703.6 785.7h.01M708.2 785.1h.01M711.3 786.1h.01M701.4 788.3h.01M704.9 789.5h.01M710.3 789.4h.01M699.3 791.7h.01M703.4 791.3h.01M707.5 792.7h.01M710.8 791.3h.01M697.1 794.9h.01M701.9 795.7h.01M705.4 795.5h.01M714.3 794.6h.01M694.9 798.8h.01M698.6 797.5h.01M703.1 798.5h.01M720.8 798.4h.01M692.9 800.7h.01M696.9 800.9h.01M701.1 800.5h.01M705.6 800.5h.01M710.3 801.6h.01M715.6 800.7h.01M691 805h.01M695.4 804.2h.01M698.4 804.1h.01M701.9 803.7h.01M706.8 803.8h.01M710.6 804.7h.01M722.7 805h.01M689.2 807.1h.01M693.3 806.7h.01M697.1 807.4h.01M701.9 806.8h.01M704.5 807.3h.01M713.8 806.7h.01M718.1 807.8h.01M687.3 811h.01M691.5 810.5h.01M695.2 810.4h.01M699.3 810.3h.01M685.4 813.6h.01M690 813.4h.01M693.6 813.3h.01M705.4 814.1h.01M710.4 813.1h.01M719 814.4h.01M876 265h.01M876.7 267.6h.01M877.5 270.2h.01M878.5 272.8h.01M879.8 275.4h.01M880.2 278h.01M879.9 280.6h.01M879.6 283.2h.01M879.1 285.8h.01M878.4 288.4h.01M877.8 291h.01M879.3 293.6h.01M880.8 296.2h.01M881.5 298.8h.01M879.1 301.4h.01M878.3 304h.01M879.3 306.6h.01M878.1 309.2h.01M876.4 311.8h.01M875.8 314.4h.01M875.4 317h.01M876.4 319.6h.01M877.7 322.2h.01M878.8 324.8h.01M879.4 327.4h.01M878.7 330h.01M877.7 332.6h.01M876.5 335.2h.01M874.8 337.8h.01M873.3 340.4h.01M872.6 343h.01M871.9 345.6h.01M870.4 348.2h.01M869.2 350.8h.01M868.7 353.4h.01M871 298.6h.01M870.2 301.9h.01M869.9 305.2h.01M871.8 308.5h.01M873.7 311.8h.01M875.2 315.1h.01M871.3 318.4h.01M869.5 321.7h.01M869.5 325h.01M871.7 328.3h.01M873.4 331.6h.01M872.6 334.9h.01M871.8 338.2h.01M871 341.5h.01M870.7 344.8h.01M874.4 59.2h.01M873.4 98.4h.01M791.4 541.1h.01M789.5 550.1h.01M786.2 568.5h.01M748.7 705.5h.01" stroke="#00ffff" stroke-width="7.2" stroke-linecap="round" fill="none"/>
<path d="M854.9 21.9L855.5 31.8L855.5 41.8L855.5 51.7L855.5 61.7L855.5 71.6L855.5 81.6L856 91.5L857.1 101.5L855.4 111.4L854.5 121.4L856.2 131.3L856.2 141.3L857.1 151.2L857.4 161.2L854.4 171.1L857.5 181.1L860.4 191L860.4 201L859.5 210.9L859.5 220.9L858.7 230.8L856.1 240.8L856.5 250.7L857.9 260.7L861.4 270.6L864.2 280.6L864.5 290.5L861.7 300.5L860.4 310.4L860.4 320.4L862.9 330.3L861.6 340.3L861.5 350.2L859.1 360.2L856.4 370.1L856.3 380.1L854.3 390L851.3 400L850 409.9L853.2 419.9L854.5 429.8L851.5 439.8L850.5 449.7L846 459.7L841.2 469.6L836.9 479.6L831.9 489.5L826.7 499.5L823.1 509.4L818.9 519.4L814.2 529.3L806.9 539.3L804.2 549.2L801.6 559.2L798.2 569.1L794.7 579.1L791 589L789.4 598.9L788.7 608.9L786.5 618.8L783.2 628.8L779.7 638.7L776.4 648.7L774.7 658.6L772.1 668.6L768.8 678.5L765.4 688.5L762.7 698.4L756.7 708.4L752.1 718.3L747.1 728.3L742.2 738.2L737.3 748.2L727.5 758.1L719.7 768.1L711.8 778L704.8 788L699.5 797.9L691.4 807.9" stroke="#0000ff" stroke-width="3.45" stroke-linejoin="round" stroke-linecap="butt" fill="none"/>
<path d="M854.9 21.9h.01M855.5 31.8h.01M855.5 41.8h.01M855.5 51.7h.01M855.5 61.7h.01M855.5 71.6h.01M855.5 81.6h.01M856 91.5h.01M857.1 101.5h.01M855.4 111.4h.01M854.5 121.4h.01M856.2 131.3h.01M856.2 141.3h.01M857.1 151.2h.01M857.4 161.2h.01M854.4 171.1h.01M857.5 181.1h.01M860.4 191h.01M860.4 201h.01M859.5 210.9h.01M859.5 220.9h.01M858.7 230.8h.01M856.1 240.8h.01M856.5 250.7h.01M857.9 260.7h.01M861.4 270.6h.01M864.2 280.6h.01M864.5 290.5h.01M861.7 300.5h.01M860.4 310.4h.01M860.4 320.4h.01M862.9 330.3h.01M861.6 340.3h.01M861.5 350.2h.01M859.1 360.2h.01M856.4 370.1h.01M856.3 380.1h.01M854.3 390h.01M851.3 400h.01M850 409.9h.01M853.2 419.9h.01M854.5 429.8h.01M851.5 439.8h.01M850.5 449.7h.01M846 459.7h.01M841.2 469.6h.01M836.9 479.6h.01M831.9 489.5h.01M826.7 499.5h.01M823.1 509.4h.01M818.9 519.4h.01M814.2 529.3h.01M806.9 539.3h.01M804.2 549.2h.01M801.6 559.2h.01M798.2 569.1h.01M794.7 579.1h.01M791 589h.01M789.4 598.9h.01M788.7 608.9h.01M786.5 618.8h.01M783.2 628.8h.01M779.7 638.7h.01M776.4 648.7h.01M774.7 658.6h.01M772.1 668.6h.01M768.8 678.5h.01M765.4 688.5h.01M762.7 698.4h.01M756.7 708.4h.01M752.1 718.3h.01M747.1 728.3h.01M742.2 738.2h.01M737.3 748.2h.01M727.5 758.1h.01M719.7 768.1h.01M711.8 778h.01M704.8 788h.01M699.5 797.9h.01M691.4 807.9h.01" stroke="#0000ff" stroke-width="12.1" stroke-linecap="round" fill="none"/>
<path d="M834.5 19.3L834.5 23.3L834.5 27.3L834.6 31.2L834.8 35.2L835 39.2L835.2 43.2L835.4 49.1L835.7 59.1L836.7 69L837.5 79L838.3 88.9L839.1 98.9L839.1 108.8L838.2 118.8L834.8 138.7L831.1 158.6L822.2 178.5L820 198.4L820 218.3L836.4 268L842.8 317.8L835.4 417.3L807.6 516.8L779.9 616.3L728.5 715.8L668.8 815.2" stroke="#ff0000" stroke-width="9.3" stroke-linejoin="round" stroke-linecap="butt" fill="none"/>
<path d="M834.5 19.3h.01M834.5 23.3h.01M834.5 27.3h.01M834.6 31.2h.01M834.8 35.2h.01M835 39.2h.01M835.2 43.2h.01M835.4 49.1h.01M835.7 59.1h.01M836.7 69h.01M837.5 79h.01M838.3 88.9h.01M839.1 98.9h.01M839.1 108.8h.01M838.2 118.8h.01M834.8 138.7h.01M831.1 158.6h.01M822.2 178.5h.01M820 198.4h.01M820 218.3h.01M836.4 268h.01M842.8 317.8h.01M835.4 417.3h.01M807.6 516.8h.01M779.9 616.3h.01M728.5 715.8h.01M668.8 815.2h.01" stroke="#ff0000" stroke-width="12.1" stroke-linecap="round" fill="none"/>
<path d="M865.4 19.3L865.3 23.3L865 27.3L864.6 31.2L864.2 35.2L863.9 39.2L863.6 43.2L863.2 49.1L862.4 59.1L862.4 69L861.8 79L859.6 88.9L855.4 98.9L849.5 108.8L844.4 118.8L841.2 138.7L843.3 158.6L845.4 178.5L847.5 198.4L850.3 218.3L855.2 268L853.5 317.8L836.2 417.3L815.5 516.8L791.5 616.3L761.5 715.8L723.6 815.2" stroke="#008000" stroke-width="3.45" stroke-linejoin="round" stroke-linecap="butt" fill="none"/>
<path d="M865.4 19.3h.01M865.3 23.3h.01M865 27.3h.01M864.6 31.2h.01M864.2 35.2h.01M863.9 39.2h.01M863.6 43.2h.01M863.2 49.1h.01M862.4 59.1h.01M862.4 69h.01M861.8 79h.01M859.6 88.9h.01M855.4 98.9h.01M849.5 108.8h.01M844.4 118.8h.01M841.2 138.7h.01M843.3 158.6h.01M845.4 178.5h.01M847.5 198.4h.01M850.3 218.3h.01M855.2 268h.01M853.5 317.8h.01M836.2 417.3h.01M815.5 516.8h.01M791.5 616.3h.01M761.5 715.8h.01M723.6 815.2h.01" stroke="#008000" stroke-width="12.1" stroke-linecap="round" fill="none"/>
<path d="M885.5 20.3L885.5 22.4L885.5 24.6L885.5 26.9L885.5 29.4L885.5 32.1L885.5 35.1L885.5 38.3L885.5 42L885.5 46.1L885.5 50.8L885.5 56.1L885.5 62.3L885.5 69.5L885.5 77.9L885.5 87.8L885.5 99.6L885.5 113.6L886.5 130.3L891.4 150.2L886.5 174.2L873.6 203L862.5 237.6L855.5 279.3L852.2 329.4L855.5 389.7L849.5 462L814.5 548.7L763.2 652.3L708.6 775.9" stroke="#ff00ff" stroke-width="3.45" stroke-linejoin="round" stroke-linecap="butt" fill="none"/>
<path d="M885.5 20.3h.01M885.5 22.4h.01M885.5 24.6h.01M885.5 26.9h.01M885.5 29.4h.01M885.5 32.1h.01M885.5 35.1h.01M885.5 38.3h.01M885.5 42h.01M885.5 46.1h.01M885.5 50.8h.01M885.5 56.1h.01M885.5 62.3h.01M885.5 69.5h.01M885.5 77.9h.01M885.5 87.8h.01M885.5 99.6h.01M885.5 113.6h.01M886.5 130.3h.01M891.4 150.2h.01M886.5 174.2h.01M873.6 203h.01M862.5 237.6h.01M855.5 279.3h.01M852.2 329.4h.01M855.5 389.7h.01M849.5 462h.01M814.5 548.7h.01M763.2 652.3h.01M708.6 775.9h.01" stroke="#ff00ff" stroke-width="12.1" stroke-linecap="round" fill="none"/>
</g>
<path d="M629.5 814.5v6M700.5 814.5v6M772.5 814.5v6M844.5 814.5v6M916.5 814.5v6M579.5 19.5h-6M579.5 68.5h-6M579.5 118.5h-6M579.5 168.5h-6M579.5 218.5h-6M579.5 267.5h-6M579.5 317.5h-6M579.5 367.5h-6M579.5 417.5h-6M579.5 467.5h-6M579.5 516.5h-6M579.5 566.5h-6M579.5 616.5h-6M579.5 666.5h-6M579.5 716.5h-6M579.5 765.5h-6" stroke="#000" stroke-width="1.39" fill="none"/>
<rect x="579.5" y="19.5" width="402" height="795" fill="none" stroke="#000" stroke-width="1.39"/>
<text x="629.5" y="841.9" text-anchor="middle" font-size="17.36">36.2</text>
<text x="700.5" y="841.9" text-anchor="middle" font-size="17.36">36.4</text>
<text x="772.5" y="841.9" text-anchor="middle" font-size="17.36">36.6</text>
<text x="844.5" y="841.9" text-anchor="middle" font-size="17.36">36.8</text>
<text x="916.5" y="841.9" text-anchor="middle" font-size="17.36">37.0</text>
<path d="M1131.5 19.5V814.5M1221.5 19.5V814.5M1311.5 19.5V814.5M1401.5 19.5V814.5M1071.5 19.5H1472.5M1071.5 68.5H1472.5M1071.5 118.5H1472.5M1071.5 168.5H1472.5M1071.5 218.5H1472.5M1071.5 267.5H1472.5M1071.5 317.5H1472.5M1071.5 367.5H1472.5M1071.5 417.5H1472.5M1071.5 467.5H1472.5M1071.5 516.5H1472.5M1071.5 566.5H1472.5M1071.5 616.5H1472.5M1071.5 666.5H1472.5M1071.5 716.5H1472.5M1071.5 765.5H1472.5" stroke="#b0b0b0" stroke-width="0.86" stroke-dasharray="3.18 1.38" fill="none"/>
<g clip-path="url(#c2)">
<path d="M1119.7 19.9h.01M1122.6 19.8h.01M1120.4 22.5h.01M1123.2 23.7h.01M1121 25.4h.01M1123.9 26.2h.01M1121.6 29.9h.01M1124.6 28.6h.01M1122.3 32.5h.01M1125.2 32.6h.01M1122.9 34.8h.01M1125.9 35.3h.01M1123.5 38.9h.01M1126.6 38.5h.01M1124.2 42.1h.01M1127.2 41.2h.01M1124.8 44.4h.01M1127.9 44.2h.01M1125.4 47.9h.01M1128.6 48.6h.01M1126 51.1h.01M1129.2 51.4h.01M1126.7 53.9h.01M1129.9 54.5h.01M1127.3 56.6h.01M1130.6 56.9h.01M1127.9 60.6h.01M1131.2 60.7h.01M1128.6 63.3h.01M1131.9 62.7h.01M1129.2 66.1h.01M1132.6 66h.01M1130 69.2h.01M1133.4 70.1h.01M1130.8 72.2h.01M1134.3 73.3h.01M1131.7 76.4h.01M1135.2 75.1h.01M1132.7 78.7h.01M1136.2 78.9h.01M1133.6 81.2h.01M1137.1 81.9h.01M1134.5 85.8h.01M1138.1 84.5h.01M1135.6 88.4h.01M1139.2 87.6h.01M1136.6 91.4h.01M1140.3 91.9h.01M1138 93.9h.01M1141.7 93.6h.01M1139.3 96.8h.01M1143.1 97.6h.01M1140.5 99.8h.01M1144.7 99.9h.01M1141.7 103.7h.01M1144.8 103.6h.01M1146.2 103.5h.01M1142.7 107h.01M1144.5 106.9h.01M1147.9 106.3h.01M1143.8 110.1h.01M1147.7 109.2h.01M1149.7 110h.01M1145.1 113.2h.01M1148.1 112.6h.01M1152.5 113.8h.01M1146.4 116.9h.01M1150.1 116.4h.01M1155.2 116.8h.01M1147.8 118.8h.01M1151.4 118.5h.01M1154.2 119.5h.01M1157.8 119.3h.01M1149.3 122.7h.01M1152 122.1h.01M1157.2 122.4h.01M1160 122.2h.01M1150.7 125.2h.01M1155.3 125.5h.01M1156.9 125.9h.01M1161.4 125.1h.01M1152.2 128.4h.01M1155.2 128.4h.01M1158.9 127.8h.01M1162.8 128.7h.01M1153.7 131h.01M1157.8 130.8h.01M1161.3 132.1h.01M1164.2 131.6h.01M1155.2 135h.01M1158.1 135.1h.01M1162 134.3h.01M1165.6 135.4h.01M1156.7 137.6h.01M1159.8 138.4h.01M1163.3 138.1h.01M1167 137.3h.01M1158.1 141.4h.01M1161.1 140.2h.01M1165.9 140.4h.01M1168.4 141.6h.01M1159.6 144.8h.01M1163.2 143.2h.01M1165.5 143.5h.01M1169.8 143.8h.01M1161.1 147.3h.01M1165.4 146.9h.01M1167.1 147.2h.01M1171.2 146.5h.01M1162.6 149.5h.01M1166 150.5h.01M1168.4 150.1h.01M1172.6 150.5h.01M1164.3 153.7h.01M1167.4 153.9h.01M1170.2 153.6h.01M1174.2 153.7h.01M1166.1 157h.01M1169.4 155.8h.01M1171.8 156.4h.01M1176 155.9h.01M1168 159.7h.01M1170.4 159.9h.01M1173.9 158.7h.01M1177.7 159h.01M1170 162.5h.01M1173.2 162.4h.01M1175.5 162.6h.01M1179.3 163.3h.01M1171.8 165.8h.01M1177.1 164.9h.01M1180.7 166.5h.01M1173.6 169.4h.01M1177.9 168.8h.01M1182.1 168.9h.01M1174.7 172.6h.01M1177.9 172.1h.01M1182.7 172h.01M1175.7 174.7h.01M1180 175.4h.01M1183.3 174.4h.01M1176.7 178.4h.01M1180.2 178.1h.01M1183.9 178.3h.01M1177.7 180.5h.01M1181.3 181h.01M1184.5 181.8h.01M1178.7 183.9h.01M1182.6 184.7h.01M1185.3 184.5h.01M1179.8 188h.01M1182 187.6h.01M1186.1 187.6h.01M1181 190.8h.01M1183.9 189.8h.01M1187.1 190h.01M1182.2 193.8h.01M1184.5 192.9h.01M1188.1 193.4h.01M1183.5 196.7h.01M1186.5 195.9h.01M1189.3 197.1h.01M1184.8 199.5h.01M1188.2 199h.01M1190.4 200.5h.01M1186.1 203h.01M1189.8 203.7h.01M1191.5 203.4h.01M1187.4 205.4h.01M1189.7 205.6h.01M1192.7 206.4h.01M1188.6 208.6h.01M1190.6 208.5h.01M1193.7 208.5h.01M1189.7 212.9h.01M1193.1 212h.01M1194.6 212.6h.01M1190.4 215.2h.01M1192.9 215.1h.01M1195.3 215.5h.01M1191.2 218h.01M1193.2 218.4h.01M1196.1 217.9h.01M1192 221.4h.01M1195.3 220.7h.01M1196.9 220.9h.01M1192.7 225.1h.01M1194.3 224.2h.01M1197.7 225.2h.01M1193.5 227.9h.01M1195.5 227h.01M1198.5 227.3h.01M1194.5 230.5h.01M1197.6 231.6h.01M1199.5 231.3h.01M1195.6 234.5h.01M1199 234.5h.01M1200.6 234.6h.01M1196.7 237.7h.01M1198.4 236.7h.01M1201.8 236.6h.01M1197.7 240.3h.01M1200.3 239.9h.01M1202.9 240.6h.01M1198.8 243h.01M1200.9 242.8h.01M1204 243.1h.01M1199.9 246.5h.01M1202.7 246.2h.01M1205.2 245.8h.01M1201 249.2h.01M1203.3 248.9h.01M1206.3 249.5h.01M1202.1 252h.01M1205.2 252.8h.01M1207.4 251.9h.01M1203.3 255.8h.01M1205.6 255.5h.01M1208.6 255.8h.01M1204.4 259.1h.01M1207.9 259.1h.01M1209.9 258.2h.01M1205.6 261.9h.01M1208 261h.01M1211.1 261.9h.01M1206.8 264.9h.01M1210.3 264.6h.01M1212.3 265.4h.01M1208 268h.01M1210 268.3h.01M1213.6 267.7h.01M1209.2 271.2h.01M1211.2 270.3h.01M1214.8 271.8h.01M1210.4 273.5h.01M1212.6 273.7h.01M1216.1 273.6h.01M1211.6 277.8h.01M1215.5 277.5h.01M1217.3 277.1h.01M1213 281h.01M1215.9 279.8h.01M1218.8 280.7h.01M1214.5 283.3h.01M1216.9 283.2h.01M1220.3 283.3h.01M1215.8 286.1h.01M1219.1 287.2h.01M1222.1 286.7h.01M1217.1 288.9h.01M1220.8 288.9h.01M1223.8 289.7h.01M1218.3 293.4h.01M1222.4 293.5h.01M1225.7 293.2h.01M1219.9 295.5h.01M1223.1 295.8h.01M1227.8 296.2h.01M1222.8 298.6h.01M1226.6 299.4h.01M1231.2 298.8h.01M1225.1 302.3h.01M1229.6 302.8h.01M1233.9 301.3h.01M1226 304.7h.01M1230.9 305.5h.01M1234.8 304.6h.01M1226.8 307.7h.01M1230.7 308.4h.01M1235.7 308.9h.01M1227.7 310.9h.01M1231.6 311.7h.01M1236.6 311.3h.01M1228.6 315.1h.01M1234 315.2h.01M1237.5 314.8h.01M1229.4 317.6h.01M1233 318.1h.01M1238.4 317.4h.01M1230.3 320.6h.01M1235 321.4h.01M1239.3 320.8h.01M1231.2 324.5h.01M1236.6 323.1h.01M1240.1 323.6h.01M1232 327.5h.01M1237.1 327.7h.01M1241 326.4h.01M1232.9 330h.01M1236.8 330.1h.01M1239.3 330.8h.01M1241.9 329.5h.01M1233.8 332.4h.01M1237.5 333.2h.01M1239.2 333.6h.01M1242.8 332.8h.01M1234.6 335.6h.01M1237.3 335.5h.01M1240.5 336.6h.01M1243.7 336.1h.01M1235.5 340h.01M1237.6 338.8h.01M1240.9 339.4h.01M1244.6 338.8h.01M1236.4 342.7h.01M1239.5 342.5h.01M1243.2 342.9h.01M1245.5 343.1h.01M1237.4 344.9h.01M1240.2 346.2h.01M1243.3 345.2h.01M1246.5 345.5h.01M1238.4 348.1h.01M1242.1 348.8h.01M1243.7 349.3h.01M1247.5 348.6h.01M1239.4 351.3h.01M1242.6 352.4h.01M1245.2 350.9h.01M1248.5 351.2h.01M1240.3 354.1h.01M1243.5 354.5h.01M1247.2 354.3h.01M1249.5 354h.01M1241.3 357.8h.01M1243.6 357.6h.01M1246.9 357.4h.01M1250.5 358.1h.01M1242.3 361.7h.01M1245.1 361.2h.01M1248.1 361.7h.01M1251.5 361.1h.01M1243.3 363.3h.01M1246.8 363.6h.01M1248.5 363.3h.01M1252.5 364.6h.01M1244.2 367.5h.01M1247 367.3h.01M1250.8 366.5h.01M1253.5 367.5h.01M1245.7 370.6h.01M1249.7 369.6h.01M1252.1 370.3h.01M1255 370.9h.01M1247.2 373.2h.01M1250.6 374h.01M1253.1 373.4h.01M1256.5 374h.01M1249.1 375.8h.01M1253.2 376.2h.01M1255.3 376.2h.01M1258.5 377h.01M1251.1 379.7h.01M1254.7 379h.01M1258.1 380.1h.01M1260.4 379.9h.01M1253 382.3h.01M1255.7 382.6h.01M1258.4 383.4h.01M1262.4 382.6h.01M1254.9 386.5h.01M1257.4 386h.01M1261.8 386h.01M1264.3 385.7h.01M1256.9 388.1h.01M1259.9 388.7h.01M1264 389.7h.01M1266.3 389.6h.01M1258.8 392.8h.01M1261.3 391.2h.01M1264.7 391.2h.01M1268.2 391.4h.01M1260.7 395.2h.01M1263.3 395.3h.01M1266.8 394.7h.01M1270.2 395.9h.01M1262.7 397.7h.01M1266.6 398.2h.01M1269.3 397.6h.01M1272.2 398.6h.01M1264.6 401.9h.01M1267.2 401.3h.01M1271.2 401.3h.01M1274.1 401.7h.01M1266.5 404.6h.01M1269.3 404.7h.01M1273.4 404.3h.01M1276.1 404.5h.01M1268.4 407.7h.01M1271.6 406.8h.01M1274.6 407.9h.01M1278 407.9h.01M1270.4 409.9h.01M1273.5 410.7h.01M1276.8 410h.01M1280 410.8h.01M1272.3 414h.01M1275.6 414.4h.01M1278.9 412.9h.01M1281.9 413.4h.01M1274.3 417.1h.01M1276.6 417.5h.01M1281.1 417.2h.01M1283.9 416.3h.01M1276.3 419.1h.01M1280.2 419.9h.01M1282.6 419.9h.01M1285.9 420.3h.01M1278.3 422.8h.01M1282.1 422.5h.01M1285.7 423.3h.01M1288 422.7h.01M1280.4 426.1h.01M1284.4 425.8h.01M1287.2 426.8h.01M1290.1 426.8h.01M1282.4 428.8h.01M1286.2 429.4h.01M1289.5 428.5h.01M1292.1 429.1h.01M1284.5 432.2h.01M1288.3 432.2h.01M1290.1 431.8h.01M1294.2 432.8h.01M1286.5 436h.01M1289.9 434.7h.01M1293.6 436h.01M1296.3 435.1h.01M1288.6 438.5h.01M1291.4 437.8h.01M1295.6 438h.01M1298.4 437.8h.01M1290.6 442.3h.01M1293.1 442h.01M1297.8 441.2h.01M1300.5 441.4h.01M1292.7 444.3h.01M1296.4 445.5h.01M1299.8 444.7h.01M1302.6 444.8h.01M1294.6 447.7h.01M1298.4 447.4h.01M1300.8 448.1h.01M1304.7 447.4h.01M1296.5 451.7h.01M1300.3 450.4h.01M1302.3 451.1h.01M1306.6 450.3h.01M1297.9 454h.01M1301.5 454.5h.01M1304.5 454.1h.01M1308.1 454.5h.01M1299.2 456.5h.01M1302.4 457.6h.01M1305.9 457.8h.01M1309.6 456.4h.01M1300.6 459.5h.01M1303.8 460.1h.01M1307.3 459.8h.01M1311.1 460.1h.01M1301.9 463.9h.01M1306.3 463.5h.01M1308.5 463.4h.01M1312.5 462.8h.01M1303.3 465.7h.01M1307.4 466h.01M1309.7 466.9h.01M1314 465.8h.01M1304.6 469.1h.01M1307.5 470.1h.01M1312.2 469h.01M1315.4 468.8h.01M1306 473.3h.01M1308.9 472.9h.01M1313.6 472.7h.01M1316.9 472.6h.01M1307.3 475.6h.01M1310.5 475.9h.01M1313.9 475.7h.01M1318.3 475.3h.01M1308.7 478.6h.01M1313.1 478.9h.01M1316.3 479h.01M1319.7 478h.01M1310 482.4h.01M1314.5 482.3h.01M1317.5 482.5h.01M1321.2 482.6h.01M1311.3 484.6h.01M1314.4 484.7h.01M1317.9 484.6h.01M1322.6 484.3h.01M1312.7 487.3h.01M1316.3 487.3h.01M1320.3 488.7h.01M1324.1 488.4h.01M1314.3 490.5h.01M1318.6 490.7h.01M1322.6 491.4h.01M1325.8 491.3h.01M1316 494.2h.01M1320.8 493.8h.01M1324.5 493.8h.01M1327.6 493.7h.01M1317.6 496.9h.01M1320.6 497.9h.01M1324.8 497.5h.01M1329.3 497h.01M1319.1 500.3h.01M1323.6 500.6h.01M1326.5 500.9h.01M1330.9 499.9h.01M1320.4 502.9h.01M1324.7 504.2h.01M1328.7 503.9h.01M1332.1 504.3h.01M1321.7 507.4h.01M1325.7 506.2h.01M1329.6 506.6h.01M1333.4 507h.01M1323.1 509.6h.01M1326.1 509.3h.01M1330.1 510.2h.01M1334.6 510.1h.01M1324.5 513h.01M1327.9 513.3h.01M1332 512.9h.01M1335.9 512.4h.01M1325.9 516.8h.01M1329.6 516h.01M1332.9 515.9h.01M1337.3 516h.01M1327.3 519h.01M1331.5 518.8h.01M1335.1 519.4h.01M1338.6 518.5h.01M1328.7 522.7h.01M1331.6 521.8h.01M1336.8 521.6h.01M1339.9 521.8h.01M1330.1 525.2h.01M1334.7 526.1h.01M1336.9 525.5h.01M1341.2 525.8h.01M1331.4 528.4h.01M1334.8 527.8h.01M1338 527.7h.01M1342.5 527.7h.01M1332.7 531.9h.01M1336.5 530.8h.01M1340.9 532.3h.01M1343.7 531.4h.01M1333.9 534.4h.01M1338.2 534.9h.01M1341.6 534.1h.01M1344.8 535h.01M1335 537.6h.01M1337.8 537h.01M1341.8 537.3h.01M1345.9 537.3h.01M1336.2 541.5h.01M1339.6 540.3h.01M1342.6 540.1h.01M1347 540.6h.01M1337.4 543.8h.01M1340.1 543.9h.01M1344.2 543.1h.01M1348.1 543.9h.01M1338.6 546.5h.01M1341.5 547.4h.01M1345.5 546.8h.01M1349.2 547.1h.01M1339.8 550.5h.01M1343.5 550.8h.01M1347.2 549.8h.01M1350.3 550.8h.01M1340.9 552.4h.01M1343.8 552.6h.01M1347.7 553h.01M1351.4 553h.01M1342.1 556.5h.01M1345.3 556.3h.01M1349.4 557h.01M1352.5 557h.01M1343.2 559.2h.01M1346.5 560.2h.01M1350.8 560h.01M1353.6 558.8h.01M1344.2 562.2h.01M1347.5 562.2h.01M1350.9 563.2h.01M1354.4 562.3h.01M1345.1 565.6h.01M1348.2 565.7h.01M1352 565.1h.01M1355.3 564.9h.01M1346.1 569.1h.01M1350.1 568.4h.01M1352.2 568.1h.01M1356.2 568.9h.01M1347 571.9h.01M1351.2 572.1h.01M1353.9 572h.01M1357 572.5h.01M1348 575.6h.01M1350.6 574.3h.01M1353.9 574.1h.01M1357.9 575.5h.01M1348.8 578.7h.01M1352.1 578.4h.01M1355.7 578.2h.01M1358.7 577.8h.01M1349.4 581.8h.01M1352.2 580.5h.01M1355 581.6h.01M1359.1 581.5h.01M1349.9 584.8h.01M1353.7 583.8h.01M1356 583.8h.01M1359.5 584.8h.01M1350.3 586.5h.01M1353.1 587.5h.01M1356.9 586.5h.01M1359.8 586.7h.01M1350.8 589.9h.01M1353.3 590.4h.01M1356 590.9h.01M1360.1 590.3h.01M1351.2 593.7h.01M1354 594.1h.01M1356.5 594.1h.01M1360.3 593.1h.01M1351.7 596.6h.01M1356.4 596.9h.01M1360.7 596.7h.01M1352.4 600.1h.01M1355.9 599.8h.01M1361.2 599.7h.01M1353.1 603h.01M1356.7 603.1h.01M1361.8 602.1h.01M1354 605.2h.01M1357.4 606.7h.01M1362.5 605.4h.01M1354.9 609.3h.01M1358.1 609.2h.01M1363.2 608.5h.01M1355.7 612.3h.01M1360.3 612.4h.01M1363.9 612.2h.01M1356.6 615.5h.01M1359.6 614.5h.01M1364.6 614.8h.01M1357.4 618.2h.01M1361.9 617.5h.01M1365.3 617.8h.01M1358.3 621.4h.01M1361.8 620.7h.01M1366 621.1h.01M1359.1 623.7h.01M1361.9 625h.01M1366.7 624.2h.01M1360 627.9h.01M1363.2 628h.01M1367.4 628.2h.01M1360.8 629.9h.01M1364.6 631.4h.01M1368.1 631.1h.01M1361.6 633.2h.01M1365.6 634.2h.01M1368.7 633.3h.01M1362.3 637.2h.01M1366.1 636.4h.01M1369.3 637.4h.01M1363.1 640.6h.01M1365.7 640h.01M1370 640.1h.01M1363.9 642.3h.01M1367.3 643.8h.01M1370.6 642.8h.01M1364.7 646.2h.01M1368.9 646.8h.01M1371.4 646.9h.01M1365.5 648.6h.01M1369.8 649h.01M1372.2 649.1h.01M1366.5 651.9h.01M1370.4 652.5h.01M1373 652.3h.01M1367.4 655.5h.01M1370.7 655.6h.01M1373.9 654.9h.01M1368.4 659h.01M1371.1 657.8h.01M1374.8 659.3h.01M1369.3 661.1h.01M1373.1 662.1h.01M1375.7 661.6h.01M1370.3 665h.01M1372.9 664.3h.01M1376.6 665.4h.01M1371.2 668.3h.01M1374.9 667.8h.01M1377.5 667.2h.01M1372.2 671.4h.01M1376.2 670.7h.01M1378.4 671.2h.01M1373.1 673.5h.01M1377.1 674.4h.01M1379.2 673.4h.01M1374 677.5h.01M1377.4 677.1h.01M1380.1 677.3h.01M1374.9 681h.01M1378.3 680.3h.01M1380.9 681h.01M1375.8 683.6h.01M1379.3 683.5h.01M1381.8 683.8h.01M1376.7 686.9h.01M1379.7 686.4h.01M1382.6 686h.01M1377.6 689.8h.01M1381 689.5h.01M1383.5 688.9h.01M1378.5 693h.01M1381.7 692.9h.01M1384.4 692.1h.01M1379.5 696.4h.01M1382.8 696.3h.01M1385.3 695.2h.01M1380.5 698.5h.01M1383.4 698.1h.01M1386.2 699.7h.01M1381.4 701.5h.01M1383.6 702.5h.01M1387.1 701.6h.01M1382.4 705.2h.01M1385.5 704.6h.01M1388 704.4h.01M1383.4 708.5h.01M1386.9 708.7h.01M1388.9 707.6h.01M1384.4 711h.01M1387 710.6h.01M1389.8 711.9h.01M1385.4 714.9h.01M1389 715.1h.01M1390.8 714.9h.01M1386.4 717.2h.01M1389.4 718.1h.01M1391.7 716.7h.01M1387.4 719.9h.01M1391.1 719.9h.01M1392.7 721.3h.01M1388.5 723.5h.01M1390.6 723.5h.01M1393.8 724.3h.01M1389.5 727h.01M1391.4 727.3h.01M1394.8 726.6h.01M1390.6 730.4h.01M1393.3 730.5h.01M1395.9 730h.01M1391.7 732.8h.01M1395.3 733.8h.01M1397 733.1h.01M1392.7 736.1h.01M1395.6 736.4h.01M1398 735.7h.01M1393.8 739.9h.01M1396.3 740h.01M1399.1 739.3h.01M1394.8 743h.01M1398.3 741.9h.01M1400.1 741.6h.01M1395.9 745.5h.01M1398.7 745.1h.01M1401.2 745.2h.01M1397 748.1h.01M1398.8 748.4h.01M1402.3 748.5h.01M1398 751.5h.01M1401.4 751.5h.01M1403.3 752h.01M1399.1 755.1h.01M1401.8 754.6h.01M1404.4 754.3h.01M1400.1 758.1h.01M1403.5 758.6h.01M1405.4 758.3h.01M1401.2 761.6h.01M1404 760.8h.01M1406.5 761.7h.01M1402.3 764.3h.01M1404.1 764.6h.01M1407.6 764.2h.01M1403.3 767.7h.01M1405.8 767.3h.01M1408.6 767.3h.01M1404.4 770.4h.01M1407.8 770h.01M1409.7 770.5h.01M1405.5 774h.01M1407.3 773.9h.01M1410.8 773.6h.01M1406.5 776.3h.01M1408.2 776.4h.01M1411.8 775.9h.01M1407.5 779h.01M1410.2 779.7h.01M1412.8 780.2h.01M1408.5 782.8h.01M1411.7 782.7h.01M1413.8 781.8h.01M1409.5 785.4h.01M1411.4 785.9h.01M1414.8 785.4h.01M1410.4 789h.01M1412.8 788.1h.01M1415.7 788.4h.01M1411.4 792.6h.01M1413.9 792.2h.01M1416.7 792h.01M1412.3 794.9h.01M1415.3 795.6h.01M1417.6 795.2h.01M1413.2 798.6h.01M1415.6 797.7h.01M1418.5 797.3h.01M1414.2 801.3h.01M1416 800.8h.01M1419.5 801.1h.01M1415.1 804.1h.01M1417.2 804.2h.01M1420.4 805h.01M1416.1 807.5h.01M1419 808.2h.01M1421.4 807.6h.01M1417 811.2h.01M1420 811h.01M1422.3 810.7h.01M1417.3 814.4h.01M1420 813.3h.01M1422.6 813.8h.01" stroke="#00ffff" stroke-width="7.2" stroke-linecap="round" fill="none"/>
<path d="M1121.5 21.9L1123.5 31.8L1125.6 41.8L1127.6 51.7L1129.6 61.7L1131.9 71.6L1134.8 81.6L1138.1 91.5L1142.5 101.5L1146.8 111.4L1151.2 121.4L1156 131.3L1160.7 141.3L1165.5 151.2L1171.5 161.2L1176.9 171.1L1180.1 181.1L1183.6 191L1187.7 201L1191.7 210.9L1194.3 220.9L1197.1 230.8L1200.8 240.8L1204.4 250.7L1208.3 260.7L1212.2 270.6L1216.3 280.6L1221.6 290.5L1230 300.5L1232.8 310.4L1235.6 320.4L1238.4 330.3L1241.2 340.3L1244.3 350.2L1247.4 360.2L1250.6 370.1L1256.8 380.1L1263 390L1269.1 400L1275.3 409.9L1281.6 419.9L1288.2 429.8L1294.8 439.8L1301.4 449.7L1305.7 459.7L1310.1 469.6L1314.4 479.6L1318.7 489.5L1324.1 499.5L1328.2 509.4L1332.6 519.4L1336.9 529.3L1340.5 539.3L1344.2 549.2L1347.8 559.2L1350.7 569.1L1353.6 579.1L1355 589L1356.5 598.9L1359.2 608.9L1362 618.8L1364.7 628.8L1367.2 638.7L1369.7 648.7L1372.7 658.6L1375.7 668.6L1378.5 678.5L1381.4 688.5L1384.4 698.4L1387.4 708.4L1390.6 718.3L1393.9 728.3L1397.4 738.2L1400.8 748.2L1404.2 758.1L1407.6 768.1L1411 778L1414.1 788L1417.1 797.9L1420.1 807.9" stroke="#0000ff" stroke-width="3.45" stroke-linejoin="round" stroke-linecap="butt" fill="none"/>
<path d="M1121.5 21.9h.01M1123.5 31.8h.01M1125.6 41.8h.01M1127.6 51.7h.01M1129.6 61.7h.01M1131.9 71.6h.01M1134.8 81.6h.01M1138.1 91.5h.01M1142.5 101.5h.01M1146.8 111.4h.01M1151.2 121.4h.01M1156 131.3h.01M1160.7 141.3h.01M1165.5 151.2h.01M1171.5 161.2h.01M1176.9 171.1h.01M1180.1 181.1h.01M1183.6 191h.01M1187.7 201h.01M1191.7 210.9h.01M1194.3 220.9h.01M1197.1 230.8h.01M1200.8 240.8h.01M1204.4 250.7h.01M1208.3 260.7h.01M1212.2 270.6h.01M1216.3 280.6h.01M1221.6 290.5h.01M1230 300.5h.01M1232.8 310.4h.01M1235.6 320.4h.01M1238.4 330.3h.01M1241.2 340.3h.01M1244.3 350.2h.01M1247.4 360.2h.01M1250.6 370.1h.01M1256.8 380.1h.01M1263 390h.01M1269.1 400h.01M1275.3 409.9h.01M1281.6 419.9h.01M1288.2 429.8h.01M1294.8 439.8h.01M1301.4 449.7h.01M1305.7 459.7h.01M1310.1 469.6h.01M1314.4 479.6h.01M1318.7 489.5h.01M1324.1 499.5h.01M1328.2 509.4h.01M1332.6 519.4h.01M1336.9 529.3h.01M1340.5 539.3h.01M1344.2 549.2h.01M1347.8 559.2h.01M1350.7 569.1h.01M1353.6 579.1h.01M1355 589h.01M1356.5 598.9h.01M1359.2 608.9h.01M1362 618.8h.01M1364.7 628.8h.01M1367.2 638.7h.01M1369.7 648.7h.01M1372.7 658.6h.01M1375.7 668.6h.01M1378.5 678.5h.01M1381.4 688.5h.01M1384.4 698.4h.01M1387.4 708.4h.01M1390.6 718.3h.01M1393.9 728.3h.01M1397.4 738.2h.01M1400.8 748.2h.01M1404.2 758.1h.01M1407.6 768.1h.01M1411 778h.01M1414.1 788h.01M1417.1 797.9h.01M1420.1 807.9h.01" stroke="#0000ff" stroke-width="12.1" stroke-linecap="round" fill="none"/>
<path d="M1112.7 19.3L1112.7 19.5L1113.4 23.3L1114.1 27.3L1114.8 31.2L1115.6 35.2L1116.7 39.2L1118.1 43.2L1119.6 49.1L1121.8 59.1L1123.1 69L1125.5 79L1127.6 88.9L1130.1 98.9L1132.2 108.8L1132.5 110L1134.4 118.8L1138.6 128L1143.8 138.7L1152.8 158.6L1163.2 178.5L1175.2 198.4L1176 200L1184.9 218L1185 218.3L1206 268L1206 268L1217.9 290L1232.2 317L1232.6 317.8L1281.9 417L1282 417.3L1288.6 432L1294 442.8L1299.9 453.5L1302.9 460L1325.7 516.8L1354.8 590L1358.3 600L1363.9 616L1364 616.3L1366 625L1394.2 715.8L1426.2 815.2L1426.2 816L1433.8 816L1433.8 815.2L1401.8 715.8L1373.5 625L1370 616.3L1369.9 616L1362.8 600L1358.4 590L1329.3 516.8L1306.5 460L1304.2 453.5L1301.5 442.8L1298.3 432L1293 417.3L1292.9 417L1243.6 317.8L1243.2 317L1226.9 290L1214 268L1214 268L1194 218.3L1193.9 218L1186.5 200L1185.8 198.4L1173.8 178.5L1163.2 158.6L1154.3 138.7L1149.1 128L1144.2 118.8L1141.5 110L1141.2 108.8L1138.9 98.9L1136.4 88.9L1134.1 79L1131.7 69L1130.2 59.1L1128 49.1L1126.3 43.2L1124.9 39.2L1123.8 35.2L1123 31.2L1122.1 27.3L1121.4 23.3L1120.7 19.5L1120.7 19.3Z" fill="#ff0000"/>
<path d="M1116.7 19.3h.01M1117.4 23.3h.01M1118.1 27.3h.01M1118.9 31.2h.01M1119.7 35.2h.01M1120.8 39.2h.01M1122.2 43.2h.01M1123.8 49.1h.01M1126 59.1h.01M1127.4 69h.01M1129.8 79h.01M1132 88.9h.01M1134.5 98.9h.01M1136.7 108.8h.01M1139.3 118.8h.01M1149.1 138.7h.01M1158 158.6h.01M1168.5 178.5h.01M1180.5 198.4h.01M1189.5 218.3h.01M1210 268h.01M1238.1 317.8h.01M1287.5 417.3h.01M1327.5 516.8h.01M1367 616.3h.01M1398 715.8h.01M1430 815.2h.01" stroke="#ff0000" stroke-width="12.1" stroke-linecap="round" fill="none"/>
<path d="M1125.2 19.3L1126 23.3L1126.8 27.3L1127.5 31.2L1128.3 35.2L1129 39.2L1130.5 43.2L1132.6 49.1L1135 59.1L1137.7 69L1139.9 79L1142.8 88.9L1145.2 98.9L1150 108.8L1154.7 118.8L1164.5 138.7L1171.6 158.6L1178.8 178.5L1184.8 198.4L1194.8 218.3L1216.8 268L1227.8 317.8L1283.8 417.3L1325.4 516.8L1360.5 616.3L1395.4 715.8L1427.5 815.2" stroke="#008000" stroke-width="3.45" stroke-linejoin="round" stroke-linecap="butt" fill="none"/>
<path d="M1125.2 19.3h.01M1126 23.3h.01M1126.8 27.3h.01M1127.5 31.2h.01M1128.3 35.2h.01M1129 39.2h.01M1130.5 43.2h.01M1132.6 49.1h.01M1135 59.1h.01M1137.7 69h.01M1139.9 79h.01M1142.8 88.9h.01M1145.2 98.9h.01M1150 108.8h.01M1154.7 118.8h.01M1164.5 138.7h.01M1171.6 158.6h.01M1178.8 178.5h.01M1184.8 198.4h.01M1194.8 218.3h.01M1216.8 268h.01M1227.8 317.8h.01M1283.8 417.3h.01M1325.4 516.8h.01M1360.5 616.3h.01M1395.4 715.8h.01M1427.5 815.2h.01" stroke="#008000" stroke-width="12.1" stroke-linecap="round" fill="none"/>
<path d="M1123.1 20.3L1123.5 22.4L1123.9 24.6L1124.3 26.9L1124.8 29.4L1125.3 32.1L1125.9 35.1L1126.5 38.3L1127.2 42L1128 46.1L1128.8 50.8L1129.9 56.1L1131 62.3L1132.4 69.5L1134.2 77.9L1136.3 87.8L1139.5 99.6L1142.4 113.6L1146.5 130.3L1157.3 150.2L1173.5 174.2L1193.4 203L1208.7 237.6L1221.8 279.3L1236.4 329.4L1261.4 389.7L1302.4 462L1341.5 548.7L1379.5 652.3L1418.8 775.9" stroke="#ff00ff" stroke-width="3.45" stroke-linejoin="round" stroke-linecap="butt" fill="none"/>
<path d="M1123.1 20.3h.01M1123.5 22.4h.01M1123.9 24.6h.01M1124.3 26.9h.01M1124.8 29.4h.01M1125.3 32.1h.01M1125.9 35.1h.01M1126.5 38.3h.01M1127.2 42h.01M1128 46.1h.01M1128.8 50.8h.01M1129.9 56.1h.01M1131 62.3h.01M1132.4 69.5h.01M1134.2 77.9h.01M1136.3 87.8h.01M1139.5 99.6h.01M1142.4 113.6h.01M1146.5 130.3h.01M1157.3 150.2h.01M1173.5 174.2h.01M1193.4 203h.01M1208.7 237.6h.01M1221.8 279.3h.01M1236.4 329.4h.01M1261.4 389.7h.01M1302.4 462h.01M1341.5 548.7h.01M1379.5 652.3h.01M1418.8 775.9h.01" stroke="#ff00ff" stroke-width="12.1" stroke-linecap="round" fill="none"/>
</g>
<path d="M1131.5 814.5v6M1221.5 814.5v6M1311.5 814.5v6M1401.5 814.5v6M1071.5 19.5h-6M1071.5 68.5h-6M1071.5 118.5h-6M1071.5 168.5h-6M1071.5 218.5h-6M1071.5 267.5h-6M1071.5 317.5h-6M1071.5 367.5h-6M1071.5 417.5h-6M1071.5 467.5h-6M1071.5 516.5h-6M1071.5 566.5h-6M1071.5 616.5h-6M1071.5 666.5h-6M1071.5 716.5h-6M1071.5 765.5h-6" stroke="#000" stroke-width="1.39" fill="none"/>
<rect x="1071.5" y="19.5" width="401" height="795" fill="none" stroke="#000" stroke-width="1.39"/>
<text transform="translate(1130.3,850.2) rotate(-45)" y="6.3" text-anchor="middle" font-size="17.36">1025</text>
<text transform="translate(1220.3,850.2) rotate(-45)" y="6.3" text-anchor="middle" font-size="17.36">1026</text>
<text transform="translate(1310.3,850.2) rotate(-45)" y="6.3" text-anchor="middle" font-size="17.36">1027</text>
<text transform="translate(1400.3,850.2) rotate(-45)" y="6.3" text-anchor="middle" font-size="17.36">1028</text>
<text transform="translate(30.2,417.9) rotate(-90)" text-anchor="middle" font-size="22.57" font-weight="bold">Depth (m)</text>
<text x="179" y="872" font-size="22.57" font-weight="bold" textLength="217.6" lengthAdjust="spacing">Temperature (<tspan font-style="italic" font-weight="normal" font-size="15.7" dy="-8.2">o</tspan><tspan font-style="italic" font-weight="normal" dy="8.2">C</tspan>)</text>
<text x="780.8" y="869.3" text-anchor="middle" font-size="22.57" font-weight="bold">Salinity</text>
<text x="1271.6" y="895.2" text-anchor="middle" font-size="22.57" font-weight="bold">Density (kg m-3)</text>
<text x="424" y="917.9" font-size="17.36" font-style="italic" style="white-space:pre">Ocean Heat Content (kJ/cm^2) - Glider: N/A,  RTOFS: N/A,  ESPC: N/A,  CMEMS: N/A, </text>
<text x="1522.57" y="36.2" font-size="22.57" font-weight="bold">Comparison Date: 2026-04-13</text>
<text x="1522.57" y="89.8" font-size="22.57" font-weight="bold">Glider: sg265</text>
<text x="1522.57" y="116.6" font-size="22.57" font-weight="bold">Profiles: 7</text>
<text x="1522.57" y="143.4" font-size="22.57" font-weight="bold">First: 2026-04-13 00:39:59</text>
<text x="1522.57" y="170.2" font-size="22.57" font-weight="bold">Last: 2026-04-13 17:27:29</text>
<text x="1522.57" y="197" font-size="22.57" font-weight="bold">Method: Nearest-Neighbor</text>
<rect x="1562.9" y="274.3" width="401.6" height="284.1" fill="#97b6e1"/>
<rect x="1563.5" y="274.5" width="401" height="284" fill="none" stroke="#000" stroke-width="1.39"/>
<g clip-path="url(#cm)">
<path d="M1559.9 271.3L1704.2 271.3L1704.2 273.4L1706.6 277.4L1709 284.2L1709.5 290.9L1708.5 295.2L1704.2 296.7L1700.3 297.8L1696 300.1L1692.6 302.5L1688.8 307.3L1684.9 312.9L1683 310.9L1679.1 310L1674.3 309.4L1671.4 310.2L1668.5 312.1L1665.6 314L1662.3 316.9L1658.9 319.8L1656 322.7L1653.6 325.6L1653.1 329.5L1652.6 333.1L1650.2 331.6L1646.4 330.8L1642.5 331L1638.6 332L1634.8 334.5L1631.9 337.2L1629.2 340.5L1627.1 343.9L1625.6 347.8L1624.7 351.6L1626.1 347.7L1624.7 351.1L1623 353.7L1620.3 355.4L1617.5 357.5L1614.1 360.2L1610.7 363.1L1607.3 365.5L1604 367.9L1601.1 370.1L1598.2 372L1595.3 374.2L1592.4 376.6L1590.3 379L1588.5 381.4L1586.1 384.3L1583.7 387.4L1582.1 390.6L1580.8 394L1579.7 397.3L1578.7 400.7L1577.5 404.1L1576.5 407.5L1575.8 410.8L1575.5 414.2L1575.6 418L1576 421.9L1576.8 425.8L1577.9 429.6L1577.9 429.6L1578.7 434.5L1579.9 439.3L1582 444.6L1584.7 449.9L1587.6 454.7L1590.5 459.5L1593.2 464.1L1595.5 468.2L1596.8 471.1L1595.3 474L1594.5 477.8L1595.5 482.6L1597.2 487.5L1599.1 492.3L1601.1 497.1L1603 501.9L1604.5 505.8L1605.9 509.6L1601.1 494.6L1602.7 498.5L1604.2 502.5L1605.7 507.2L1606.9 512L1607.5 516.8L1607.6 521.6L1607.1 526.4L1606.4 531.3L1605.5 536.1L1604.4 540.9L1603.1 544.5L1601.6 547.6L1600.1 550.7L1598.5 553.6L1597 555.5L1595.3 556.9L1591.9 557.1L1588.5 556.5L1585.8 555.6L1583.7 554.4L1582.4 552.6L1581.6 550.5L1582.2 547.8L1583.2 545.3L1581.3 543.2L1579.4 541.5L1577.5 539.5L1575.5 538.1L1572.6 536.7L1569.8 535.7L1568.1 533.4L1566.9 530.9L1566.1 527.4L1565.6 524L1564.9 521.6L1564.2 519.5L1565.9 517.4L1567.9 516.2L1565.4 516L1563.6 517.2L1562.3 518L1559.9 518Z" fill="#d2b48c"/>
<path d="M1704.6 275.5L1707.6 281.3L1708.1 287.2L1707.6 293.8L1703.8 295.7L1699.9 296.9L1695.7 299L1692.2 301.5L1689.3 301.7L1686.1 299L1686.8 296.3L1689.9 294.6L1694.5 291.5L1697.9 288.6L1700.5 285.9L1702.5 281.8L1703.6 278.4Z" fill="#97b6e1"/>
<path d="M1680.1 273.4L1682.2 275.7L1685.9 276.6L1689.7 275.9L1694.5 275.5L1698.9 275.1L1703.2 275.5L1704.2 273.4Z" fill="#97b6e1"/>
<path d="M1598.2 274L1599.6 276.5L1597.2 279.8L1600.6 282.7L1604 286.6L1606.4 290.9L1605.9 295.2L1607.8 299.1L1610.7 301.5L1610.2 305.8L1611.7 310.2L1613.6 316L1616.5 319.8L1617.9 325.6L1620.3 330.4L1623.7 334.3L1626.6 337.2L1627.9 340.5L1626.6 343.9" fill="none" stroke="#97b6e1" stroke-width="2" stroke-linejoin="round"/>
<path d="M1621.8 274L1625.2 279.8L1629 285.6L1632.9 289.9L1637.2 293.3L1633.8 297.2L1633.3 301.5L1634.8 307.3L1638.6 311.6L1642.5 314.5L1646.4 317.9L1650.7 319.8L1653.1 323.7" fill="none" stroke="#97b6e1" stroke-width="2" stroke-linejoin="round"/>
<path d="M1669.5 274L1672.9 276.5L1677.2 278.6L1680.1 276.5" fill="none" stroke="#97b6e1" stroke-width="2" stroke-linejoin="round"/>
<path d="M1562.5 294.8L1569.3 295.9L1573.6 299.1L1575.2 304.4L1575.8 312.1L1577 318.9L1579.9 323.2L1583.2 326.1L1585.7 330.9L1590.5 334.3L1593.8 337.2L1597.2 340.2L1601.1 342.7L1604 346.8L1606.9 351.6L1607.8 349.6L1609.3 355.4L1608.3 358.3" fill="none" stroke="#97b6e1" stroke-width="2" stroke-linejoin="round"/>
<path d="M1601.1 342.7L1604.9 342L1608.8 342.9L1613.6 345.8L1618.4 348.7L1622.3 350.6L1621.8 349.6" fill="none" stroke="#97b6e1" stroke-width="2" stroke-linejoin="round"/>
<path d="M1573.6 326.4L1577.9 326.8L1581.8 327.7" fill="none" stroke="#97b6e1" stroke-width="2" stroke-linejoin="round"/>
<path d="M1596.3 340L1600.1 342.9L1604.9 342.4L1609.7 344.3L1615.5 347.2L1621.8 349.6" fill="none" stroke="#97b6e1" stroke-width="2" stroke-linejoin="round"/>
<path d="M1563 386.7L1566.9 390.1L1569.8 393.5L1572.6 397.3L1574.6 398.8" fill="none" stroke="#97b6e1" stroke-width="2" stroke-linejoin="round"/>
<path d="M1576.2 422.7L1572.2 423.1L1570.2 425.8L1570.7 429.6L1576 422.9L1570.7 424L1570.2 429.6L1572.6 436.4L1570.4 444.1L1572.2 451.8L1577 458.5L1581.8 463.4L1585.7 470.1L1588.4 476.9L1589.7 482.6L1587.1 481.7L1583.7 478.6" fill="none" stroke="#97b6e1" stroke-width="2" stroke-linejoin="round"/>
<path d="M1583.4 511L1589.6 504.3L1594.6 510L1589.4 516.7Z" fill="#b2b2b2"/>
<path d="M1577.6 500L1579.5 497.9L1580.2 499L1579.3 501.1Z" fill="#b2b2b2"/>
<path d="M1577.8 486.7L1579.7 484.2L1580.4 485.7L1579.5 488.2Z" fill="#b2b2b2"/>
<path d="M1569.8 468.7L1571.8 466.8L1572.6 467.7L1571.6 469.6Z" fill="#b2b2b2"/>
<path d="M1577.7 500L1579.5 498L1580.1 499L1579.3 501Z" fill="#b2b2b2"/>
<path d="M1562.5 295.7L1574.1 296.5L1582.8 297.3L1584.9 298.8L1587.8 299.8L1589.7 303.4L1590.1 306.5L1604 306.8L1615.5 307.3L1623.2 315L1630.9 322.9L1638.8 331" fill="none" stroke="#000" stroke-width="1.35" stroke-linejoin="round"/>
<path d="M1562.5 341L1564.5 345.1L1567.3 349.2L1570.2 351.8L1566.4 346.7L1570.2 350.6L1573.6 354.5L1575.2 359.3L1576.5 363.1L1578.9 366.5L1581 369.9L1582.6 373.7L1583.7 377.6L1586.1 379.3L1588.5 380.5" fill="none" stroke="#000" stroke-width="1.35" stroke-linejoin="round"/>
<path d="M1563 412.8L1565.9 412.5L1569.3 413.7L1572.6 414.4L1574.6 414" fill="none" stroke="#000" stroke-width="1.35" stroke-linejoin="round"/>
<path d="M1704.2 273.4L1706.6 277.4L1709 284.2L1709.5 290.9L1708.5 295.2L1704.2 296.7L1700.3 297.8L1696 300.1L1692.6 302.5L1688.8 307.3L1684.9 312.9L1683 310.9L1679.1 310L1674.3 309.4L1671.4 310.2L1668.5 312.1L1665.6 314L1662.3 316.9L1658.9 319.8L1656 322.7L1653.6 325.6L1653.1 329.5L1652.6 333.1L1650.2 331.6L1646.4 330.8L1642.5 331L1638.6 332L1634.8 334.5L1631.9 337.2L1629.2 340.5L1627.1 343.9L1625.6 347.8L1624.7 351.6L1626.1 347.7L1624.7 351.1L1623 353.7L1620.3 355.4L1617.5 357.5L1614.1 360.2L1610.7 363.1L1607.3 365.5L1604 367.9L1601.1 370.1L1598.2 372L1595.3 374.2L1592.4 376.6L1590.3 379L1588.5 381.4L1586.1 384.3L1583.7 387.4L1582.1 390.6L1580.8 394L1579.7 397.3L1578.7 400.7L1577.5 404.1L1576.5 407.5L1575.8 410.8L1575.5 414.2L1575.6 418L1576 421.9L1576.8 425.8L1577.9 429.6L1577.9 429.6L1578.7 434.5L1579.9 439.3L1582 444.6L1584.7 449.9L1587.6 454.7L1590.5 459.5L1593.2 464.1L1595.5 468.2L1596.8 471.1L1595.3 474L1594.5 477.8L1595.5 482.6L1597.2 487.5L1599.1 492.3L1601.1 497.1L1603 501.9L1604.5 505.8L1605.9 509.6L1601.1 494.6L1602.7 498.5L1604.2 502.5L1605.7 507.2L1606.9 512L1607.5 516.8L1607.6 521.6L1607.1 526.4L1606.4 531.3L1605.5 536.1L1604.4 540.9L1603.1 544.5L1601.6 547.6L1600.1 550.7L1598.5 553.6L1597 555.5L1595.3 556.9L1591.9 557.1L1588.5 556.5L1585.8 555.6L1583.7 554.4L1582.4 552.6L1581.6 550.5L1582.2 547.8L1583.2 545.3L1581.3 543.2L1579.4 541.5L1577.5 539.5L1575.5 538.1L1572.6 536.7L1569.8 535.7L1568.1 533.4L1566.9 530.9L1566.1 527.4L1565.6 524L1564.9 521.6L1564.2 519.5L1565.9 517.4L1567.9 516.2L1565.4 516L1563.6 517.2L1562.3 518" fill="none" stroke="#000" stroke-width="2.3" stroke-linejoin="round"/>
<path d="M1680.1 274.6L1706.1 274.6" fill="none" stroke="#000" stroke-width="1.6" stroke-linejoin="round" stroke-linecap="round"/>
<path d="M1680.6 275L1684.9 276.5L1689.7 276.1L1694.5 275.5L1697.4 276.5" fill="none" stroke="#000" stroke-width="2.1" stroke-linejoin="round" stroke-linecap="round"/>
<path d="M1696.5 276.5L1695.7 281.3L1696.5 283.7" fill="none" stroke="#000" stroke-width="3" stroke-linejoin="round" stroke-linecap="round"/>
<path d="M1702.7 276.5L1703.2 281.3L1701.3 285.1L1698.4 287.2" fill="none" stroke="#000" stroke-width="2.5" stroke-linejoin="round" stroke-linecap="round"/>
<path d="M1674.8 288.2L1678.2 290.1L1682 290.9L1684.9 290.5" fill="none" stroke="#000" stroke-width="4.4" stroke-linejoin="round" stroke-linecap="round"/>
<path d="M1682 287.2L1684.4 288.5L1685.9 290.9L1684.4 294.3L1683.5 296.7" fill="none" stroke="#000" stroke-width="4.8" stroke-linejoin="round" stroke-linecap="round"/>
<path d="M1684.9 290.9L1688.8 291.7L1692.6 290.5L1695.5 289" fill="none" stroke="#000" stroke-width="2.8" stroke-linejoin="round" stroke-linecap="round"/>
<path d="M1674.8 300.1L1678.2 302.3L1682 302.5L1684.9 301.3" fill="none" stroke="#000" stroke-width="4" stroke-linejoin="round" stroke-linecap="round"/>
<path d="M1683.5 296.7L1684.9 300.5L1688.8 302L1691.6 301.3" fill="none" stroke="#000" stroke-width="3.8" stroke-linejoin="round" stroke-linecap="round"/>
<path d="M1686.8 302.5L1684.9 307.3L1684.4 311.6" fill="none" stroke="#000" stroke-width="3.8" stroke-linejoin="round" stroke-linecap="round"/>
<path d="M1665.6 312.9L1671.4 309.4L1678.2 309L1683.5 307.3" fill="none" stroke="#000" stroke-width="2.5" stroke-linejoin="round" stroke-linecap="round"/>
<path d="M1653.6 324.6L1652.7 329.5L1652.9 332.8" fill="none" stroke="#000" stroke-width="3.4" stroke-linejoin="round" stroke-linecap="round"/>
<path d="M1623.2 345.8L1624.7 348.7L1625.2 351.6" fill="none" stroke="#000" stroke-width="3.4" stroke-linejoin="round" stroke-linecap="round"/>
<path d="M1623.2 346L1625.4 347.7L1626.1 350.1" fill="none" stroke="#000" stroke-width="3.2" stroke-linejoin="round" stroke-linecap="round"/>
<path d="M1607.8 360.4L1611.7 360L1616.5 356.4L1621.3 354.5" fill="none" stroke="#000" stroke-width="1.9" stroke-linejoin="round" stroke-linecap="round"/>
<path d="M1589 368.4L1589.5 372.8L1592.4 372.3L1593.4 368.9L1596.3 368.9L1597.2 371.8" fill="none" stroke="#000" stroke-width="3.4" stroke-linejoin="round" stroke-linecap="round"/>
<path d="M1588.5 377.8L1595.3 373.2L1601.1 368.9L1607.8 365.2" fill="none" stroke="#000" stroke-width="1.9" stroke-linejoin="round" stroke-linecap="round"/>
<path d="M1580.8 383.4L1583.2 385.3L1586.6 382.4" fill="none" stroke="#000" stroke-width="4" stroke-linejoin="round" stroke-linecap="round"/>
<path d="M1578.9 386.7L1580.1 390.1L1578.9 394L1577.2 397.8L1575.8 401.7L1574.9 406.5" fill="none" stroke="#000" stroke-width="5.3" stroke-linejoin="round" stroke-linecap="round"/>
<path d="M1581.8 385.3L1579.9 392L1577.9 398.8L1576.2 405.5L1575.2 411.3" fill="none" stroke="#000" stroke-width="3.4" stroke-linejoin="round" stroke-linecap="round"/>
<path d="M1572.2 401.7L1574.1 405.5L1574.6 409.4L1574.1 414.2" fill="none" stroke="#000" stroke-width="3.4" stroke-linejoin="round" stroke-linecap="round"/>
<path d="M1575.2 414.2L1575.2 420" fill="none" stroke="#000" stroke-width="2.8" stroke-linejoin="round" stroke-linecap="round"/>
<path d="M1577.9 434.5L1578.9 438.3" fill="none" stroke="#000" stroke-width="3" stroke-linejoin="round" stroke-linecap="round"/>
<path d="M1589 467.2L1591.4 471.1L1596.1 472" fill="none" stroke="#000" stroke-width="3.4" stroke-linejoin="round" stroke-linecap="round"/>
<path d="M1590.5 470.1L1592.9 475.9L1594.5 477.8" fill="none" stroke="#000" stroke-width="4" stroke-linejoin="round" stroke-linecap="round"/>
<path d="M1600.1 502.7L1603.2 504" fill="none" stroke="#000" stroke-width="2.8" stroke-linejoin="round" stroke-linecap="round"/>
<path d="M1600.1 503.3L1603.2 504.8" fill="none" stroke="#000" stroke-width="2.8" stroke-linejoin="round" stroke-linecap="round"/>
<path d="M1564.5 518.7L1565.4 523.5L1566.4 530.3L1568.8 535.1" fill="none" stroke="#000" stroke-width="3.2" stroke-linejoin="round" stroke-linecap="round"/>
<path d="M1569.8 535.6L1575.5 537.8L1579.9 541.4L1583.2 544.9" fill="none" stroke="#000" stroke-width="3.8" stroke-linejoin="round" stroke-linecap="round"/>
<path d="M1581.8 546.7L1581.8 551.5L1583.7 554.6L1588.5 556.5L1595.3 556.8" fill="none" stroke="#000" stroke-width="4.4" stroke-linejoin="round" stroke-linecap="round"/>
<path d="M1582.8 551.5L1585.8 552.5L1584.7 555.8" fill="none" stroke="#000" stroke-width="3.2" stroke-linejoin="round" stroke-linecap="round"/>
<path d="M1595.3 556.8L1599.1 552.9L1602 546.7L1604.2 541.4" fill="none" stroke="#000" stroke-width="3.2" stroke-linejoin="round" stroke-linecap="round"/>
<path d="M1642.5 502.3L1646.4 504.3L1651.2 506.4L1656 508.1L1659.8 509.3" fill="none" stroke="#000" stroke-width="2" stroke-linejoin="round" stroke-linecap="round"/>
<path d="M1647.3 508.1L1648.3 509.6" fill="none" stroke="#000" stroke-width="2.9" stroke-linejoin="round" stroke-linecap="round"/>
<path d="M1629 515.6L1631.9 518.2L1635.3 520.7L1638.2 519.7L1639.1 515.8L1641.1 513.9L1642.5 516.8L1647.3 516.6L1652.1 516L1655 516.8" fill="none" stroke="#000" stroke-width="3.8" stroke-linejoin="round" stroke-linecap="round"/>
<path d="M1654.1 512L1657.9 510.8L1662.3 511.5L1666.1 513.9L1669 516.8L1672.9 518.5L1675.1 521.1L1674.9 525.5L1671.9 527.2L1670.4 530.3L1669.7 535.1L1669.5 537.5" fill="none" stroke="#000" stroke-width="4.5" stroke-linejoin="round" stroke-linecap="round"/>
<path d="M1667.1 516.8L1669.5 521.6L1670.4 526.4" fill="none" stroke="#000" stroke-width="4.5" stroke-linejoin="round" stroke-linecap="round"/>
<path d="M1656 518.7L1657.4 522.6" fill="none" stroke="#000" stroke-width="1.8" stroke-linejoin="round" stroke-linecap="round"/>
<path d="M1660.8 526L1662.3 527.9" fill="none" stroke="#000" stroke-width="2.7" stroke-linejoin="round" stroke-linecap="round"/>
<path d="M1661.8 531.3L1663.2 532.4" fill="none" stroke="#000" stroke-width="2.3" stroke-linejoin="round" stroke-linecap="round"/>
<path d="M1665.6 533.2L1669.5 537" fill="none" stroke="#000" stroke-width="2.7" stroke-linejoin="round" stroke-linecap="round"/>
<path d="M1623.7 539.4L1623.2 541.9L1624.4 544.9" fill="none" stroke="#000" stroke-width="3.2" stroke-linejoin="round" stroke-linecap="round"/>
<path d="M1653.9 537.8L1656.5 540.9L1658.4 543.8L1657.1 547.2L1654.5 548.6" fill="none" stroke="#000" stroke-width="3.2" stroke-linejoin="round" stroke-linecap="round"/>
<path d="M1647.5 551.5L1648.1 554.4L1649.2 557.1" fill="none" stroke="#000" stroke-width="4.5" stroke-linejoin="round" stroke-linecap="round"/>
<path d="M1649.7 552.5L1652.1 555.8L1652.3 557.8" fill="none" stroke="#000" stroke-width="2.7" stroke-linejoin="round" stroke-linecap="round"/>
<path d="M1661.3 557.5L1665.6 556.5L1670.9 555.8L1674.3 552.9L1677.7 548.1L1679.6 545.7L1682.5 545.5L1684.9 548.1L1689.2 551.5L1693.6 555.1L1694.5 557.9" fill="none" stroke="#000" stroke-width="2.9" stroke-linejoin="round" stroke-linecap="round"/>
<path d="M1678.2 545.9L1682.2 545.3" fill="none" stroke="#000" stroke-width="4.1" stroke-linejoin="round" stroke-linecap="round"/>
<path d="M1697.4 557.8L1701.8 557.8" fill="none" stroke="#000" stroke-width="2.2" stroke-linejoin="round" stroke-linecap="round"/>
<path d="M1628 533h.01M1632.9 534.6h.01M1624.7 548.1h.01M1625.6 550h.01M1626.6 552.5h.01M1651.2 546.7h.01M1674.3 553.6h.01M1679.9 554.9h.01M1638.2 510.8h.01M1629.5 514.4h.01" stroke="#000" stroke-opacity="0.35" stroke-width="1.6" stroke-linecap="round"/>
<path d="M1944.6 374.1L1947.2 373.2L1949.6 372" fill="none" stroke="#000" stroke-width="2.9" stroke-linecap="round"/>
</g>
<path d="M1585.5 558.5v8.9M1585.5 274.5v-8.9M1652.5 558.5v8.9M1652.5 274.5v-8.9M1719.5 558.5v8.9M1719.5 274.5v-8.9M1786.5 558.5v8.9M1786.5 274.5v-8.9M1853.5 558.5v8.9M1853.5 274.5v-8.9M1920.5 558.5v8.9M1920.5 274.5v-8.9M1563.5 274.5h-8.9M1964.5 274.5h8.9M1563.5 355.5h-8.9M1964.5 355.5h8.9M1563.5 433.5h-8.9M1964.5 433.5h8.9M1563.5 509.5h-8.9M1964.5 509.5h8.9" stroke="#000" stroke-width="3" fill="none"/>
<path d="M1563 558.5v3M1563 274.5v-3M1608 558.5v3M1608 274.5v-3M1630 558.5v3M1630 274.5v-3M1674 558.5v3M1674 274.5v-3M1697 558.5v3M1697 274.5v-3M1741 558.5v3M1741 274.5v-3M1764 558.5v3M1764 274.5v-3M1808 558.5v3M1808 274.5v-3M1831 558.5v3M1831 274.5v-3M1875 558.5v3M1875 274.5v-3M1898 558.5v3M1898 274.5v-3M1942 558.5v3M1942 274.5v-3M1964 558.5v3M1964 274.5v-3M1563.5 302h-3M1964.5 302h3M1563.5 329h-3M1964.5 329h3M1563.5 382h-3M1964.5 382h3M1563.5 408h-3M1964.5 408h3M1563.5 459h-3M1964.5 459h3M1563.5 484h-3M1964.5 484h3M1563.5 534h-3M1964.5 534h3" stroke="#000" stroke-width="2" fill="none"/>
<text x="1547.9" y="283.8" text-anchor="end" font-size="22.57">36°N</text>
<text x="1547.9" y="364.8" text-anchor="end" font-size="22.57">33°N</text>
<text x="1547.9" y="442.8" text-anchor="end" font-size="22.57">30°N</text>
<text x="1547.9" y="518.8" text-anchor="end" font-size="22.57">27°N</text>
<text transform="translate(1583.1,604) rotate(-45)" y="8.2" text-anchor="middle" font-size="22.57">81°W</text>
<text transform="translate(1650.1,604) rotate(-45)" y="8.2" text-anchor="middle" font-size="22.57">78°W</text>
<text transform="translate(1717.1,604) rotate(-45)" y="8.2" text-anchor="middle" font-size="22.57">75°W</text>
<text transform="translate(1784.1,604) rotate(-45)" y="8.2" text-anchor="middle" font-size="22.57">72°W</text>
<text transform="translate(1851.1,604) rotate(-45)" y="8.2" text-anchor="middle" font-size="22.57">69°W</text>
<text transform="translate(1918.1,604) rotate(-45)" y="8.2" text-anchor="middle" font-size="22.57">66°W</text>
<rect x="1584.2" y="635.7" width="358.8" height="178.8" rx="3.5" ry="3.5" fill="#fff" fill-opacity="0.8" stroke="#ccc" stroke-opacity="0.8" stroke-width="1.74"/>
<circle cx="1616.2" cy="655.5" r="3.6" fill="#00ffff"/>
<text x="1656.5" y="663.4" font-size="22.57">sg265 (Raw Data Points)</text>
<path d="M1592.3 690H1640" stroke="#0000ff" stroke-width="3.45"/>
<circle cx="1616.2" cy="690" r="6.03" fill="#0000ff"/>
<text x="1656.5" y="697.9" font-size="22.57">sg265 (Average Profile)</text>
<path d="M1592.3 724.4H1640" stroke="#ff0000" stroke-width="3.45"/>
<circle cx="1616.2" cy="724.4" r="6.03" fill="#ff0000"/>
<text x="1656.5" y="732.3" font-size="22.57">RTOFS</text>
<path d="M1592.3 758.8H1640" stroke="#008000" stroke-width="3.45"/>
<circle cx="1616.2" cy="758.8" r="6.03" fill="#008000"/>
<text x="1656.5" y="766.7" font-size="22.57">ESPC</text>
<path d="M1592.3 793.2H1640" stroke="#ff00ff" stroke-width="3.45"/>
<circle cx="1616.2" cy="793.2" r="6.03" fill="#ff00ff"/>
<text x="1656.5" y="801.1" font-size="22.57">CMEMS</text>
</svg></body></html>
